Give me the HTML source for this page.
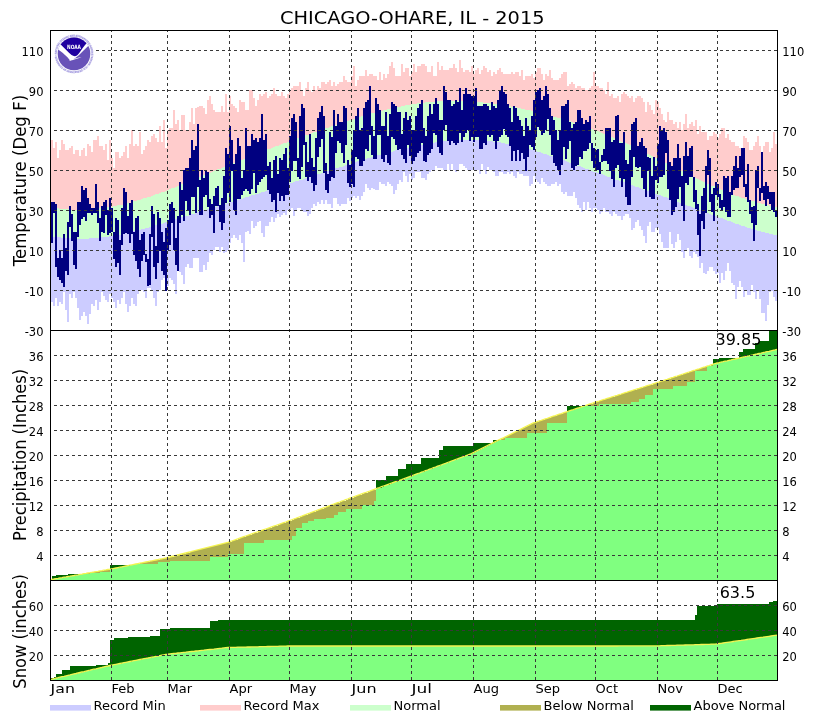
<!DOCTYPE html><html><head><meta charset="utf-8"><title>CHICAGO-OHARE, IL - 2015</title>
<style>html,body{margin:0;padding:0;background:#fff}svg{display:block}text{font-family:"DejaVu Sans","Liberation Sans",sans-serif;fill:#000}</style></head><body>
<svg width="827" height="720" viewBox="0 0 827 720">
<rect width="827" height="720" fill="#fff"/>
<g id="temp">
<path d="M51 140H53V208H51ZM53 148H55V208H53ZM55 142H57V208H55ZM57 158H59V208H57ZM59 150H61V209H59ZM61 140H63V209H61ZM63 144H65V209H63ZM65 150H67V209H65ZM67 150H69V209H67ZM69 148H71V209H69ZM71 146H73V210H71ZM73 154H75V210H73ZM75 150H77V210H75ZM77 150H79V210H77ZM79 156H81V210H79ZM81 150H83V210H81ZM83 148H85V210H83ZM85 156H87V209H85ZM87 144H89V209H87ZM89 146H91V209H89ZM91 152H93V209H91ZM93 140H95V209H93ZM95 140H97V209H95ZM97 136H99V209H97ZM99 146H101V208H99ZM101 146H103V208H101ZM103 150H105V208H103ZM105 144H107V208H105ZM107 160H109V207H107ZM109 140H111V207H109ZM111 158H113V207H111ZM113 168H115V206H113ZM115 152H117V206H115ZM117 152H119V205H117ZM119 158H121V205H119ZM121 156H123V205H121ZM123 152H125V204H123ZM125 146H127V204H125ZM127 158H129V203H127ZM129 144H131V203H129ZM131 130H133V202H131ZM133 146H135V201H133ZM135 144H137V201H135ZM137 146H139V200H137ZM139 132H141V200H139ZM141 154H143V199H141ZM143 150H145V198H143ZM145 146H147V198H145ZM147 140H149V197H147ZM149 142H151V197H149ZM151 136H153V196H151ZM153 134H155V195H153ZM155 138H157V194H155ZM157 142H159V194H157ZM159 126H161V193H159ZM161 142H163V192H161ZM163 120H165V192H163ZM165 148H167V191H165ZM167 130H169V190H167ZM169 128H171V189H169ZM171 128H173V188H171ZM173 110H175V188H173ZM175 124H177V187H175ZM177 120H179V186H177ZM179 130H181V185H179ZM181 115H183V184H181ZM183 115H185V184H183ZM185 130H187V183H185ZM187 130H189V182H187ZM189 122H191V181H189ZM191 108H193V180H191ZM193 124H195V180H193ZM195 108H197V179H195ZM197 107H199V178H197ZM199 106H201V177H199ZM201 106H203V176H201ZM203 108H205V175H203ZM205 114H207V174H205ZM207 100H209V174H207ZM209 96H211V173H209ZM211 104H213V172H211ZM213 110H215V171H213ZM215 112H217V170H215ZM217 112H219V169H217ZM219 112H221V169H219ZM221 106H223V168H221ZM223 112H225V167H223ZM225 94H227V166H225ZM227 112H229V165H227ZM229 96H231V164H229ZM231 104H233V164H231ZM233 106H235V163H233ZM235 108H237V162H235ZM237 112H239V161H237ZM239 100H241V160H239ZM241 102H243V160H241ZM243 102H245V159H243ZM245 110H247V158H245ZM247 110H249V157H247ZM249 90H251V156H249ZM251 90H253V156H251ZM253 98H255V155H253ZM255 106H257V154H255ZM257 100H259V153H257ZM259 94H261V152H259ZM261 96H263V152H261ZM263 94H265V151H263ZM265 92H267V150H265ZM267 98H269V149H267ZM269 96H271V149H269ZM271 94H273V148H271ZM273 88H275V147H273ZM275 94H277V146H275ZM277 96H279V146H277ZM279 96H281V145H279ZM281 92H283V144H281ZM283 96H285V143H283ZM285 98H287V143H285ZM287 94H289V142H287ZM289 90H291V141H289ZM291 88H293V140H291ZM293 86H295V140H293ZM295 86H297V139H295ZM297 86H299V138H297ZM299 82H301V137H299ZM301 90H303V137H301ZM303 96H305V136H303ZM305 88H307V135H305ZM307 82H309V135H307ZM309 90H311V134H309ZM311 92H313V133H311ZM313 86H315V132H313ZM315 90H317V132H315ZM317 86H319V131H317ZM319 88H321V130H319ZM321 82H323V130H321ZM323 82H325V129H323ZM325 84H327V128H325ZM327 82H329V128H327ZM329 80H331V127H329ZM331 86H333V126H331ZM333 82H335V125H333ZM335 86H337V125H335ZM337 84H339V124H337ZM339 82H341V123H339ZM341 82H343V123H341ZM343 76H345V122H343ZM345 80H347V121H345ZM347 82H349V121H347ZM349 82H351V120H349ZM351 76H353V120H351ZM353 66H355V119H353ZM355 86H357V118H355ZM357 80H359V118H357ZM359 76H361V117H359ZM361 76H363V116H361ZM363 76H365V116H363ZM365 70H367V115H365ZM367 76H369V115H367ZM369 74H371V114H369ZM371 74H373V113H371ZM373 76H375V113H373ZM375 76H377V112H375ZM377 80H379V112H377ZM379 72H381V111H379ZM381 80H383V111H381ZM383 74H385V110H383ZM385 78H387V110H385ZM387 74H389V109H387ZM389 66H391V109H389ZM391 62H393V108H391ZM393 68H395V108H393ZM395 76H397V107H395ZM397 76H399V107H397ZM399 76H401V107H399ZM401 64H403V106H401ZM403 72H405V106H403ZM405 68H407V105H405ZM407 68H409V105H407ZM409 76H411V105H409ZM411 72H413V104H411ZM413 64H415V104H413ZM415 72H417V104H415ZM417 66H419V103H417ZM419 66H421V103H419ZM421 64H423V103H421ZM423 64H425V103H423ZM425 66H427V102H425ZM427 72H429V102H427ZM429 72H431V102H429ZM431 66H433V102H431ZM433 76H435V102H433ZM435 76H437V102H435ZM437 62H439V101H437ZM439 70H441V101H439ZM441 66H443V101H441ZM443 70H445V101H443ZM445 70H447V101H445ZM447 70H449V101H447ZM449 68H451V101H449ZM451 68H453V101H451ZM453 64H455V101H453ZM455 68H457V101H455ZM457 72H459V101H457ZM459 60H461V101H459ZM461 68H463V101H461ZM463 72H465V101H463ZM465 70H467V101H465ZM467 70H469V101H467ZM469 72H471V101H469ZM471 66H473V102H471ZM473 74H475V102H473ZM475 70H477V102H475ZM477 68H479V102H477ZM479 74H481V102H479ZM481 70H483V102H481ZM483 66H485V103H483ZM485 68H487V103H485ZM487 72H489V103H487ZM489 70H491V103H489ZM491 76H493V104H491ZM493 72H495V104H493ZM495 74H497V104H495ZM497 70H499V104H497ZM499 68H501V105H499ZM501 72H503V105H501ZM503 74H505V105H503ZM505 74H507V106H505ZM507 74H509V106H507ZM509 74H511V106H509ZM511 72H513V107H511ZM513 74H515V107H513ZM515 72H517V107H515ZM517 72H519V108H517ZM519 76H521V108H519ZM521 70H523V109H521ZM523 80H525V109H523ZM525 76H527V110H525ZM527 76H529V110H527ZM529 76H531V110H529ZM531 74H533V111H531ZM533 78H535V111H533ZM535 72H537V112H535ZM537 68H539V112H537ZM539 68H541V113H539ZM541 74H543V113H541ZM543 80H545V114H543ZM545 74H547V114H545ZM547 76H549V115H547ZM549 70H551V115H549ZM551 78H553V116H551ZM553 80H555V117H553ZM555 80H557V117H555ZM557 80H559V118H557ZM559 78H561V118H559ZM561 74H563V119H561ZM563 72H565V120H563ZM565 72H567V120H565ZM567 86H569V121H567ZM569 84H571V121H569ZM571 82H573V122H571ZM573 84H575V123H573ZM575 88H577V123H575ZM577 86H579V124H577ZM579 86H581V125H579ZM581 88H583V126H581ZM583 88H585V126H583ZM585 90H587V127H585ZM587 90H589V128H587ZM589 88H591V128H589ZM591 86H593V129H591ZM593 72H595V130H593ZM595 86H597V131H595ZM597 86H599V131H597ZM599 88H601V132H599ZM601 88H603V133H601ZM603 90H605V134H603ZM605 94H607V135H605ZM607 82H609V136H607ZM609 96H611V136H609ZM611 94H613V137H611ZM613 98H615V138H613ZM615 98H617V139H615ZM617 96H619V140H617ZM619 102H621V141H619ZM621 94H623V142H621ZM623 92H625V143H623ZM625 94H627V143H625ZM627 96H629V144H627ZM629 98H631V145H629ZM631 96H633V146H631ZM633 102H635V147H633ZM635 98H637V148H635ZM637 96H639V149H637ZM639 96H641V150H639ZM641 98H643V151H641ZM643 102H645V152H643ZM645 112H647V153H645ZM647 102H649V154H647ZM649 105H651V155H649ZM651 110H653V156H651ZM653 114H655V157H653ZM655 100H657V158H655ZM657 102H659V159H657ZM659 108H661V160H659ZM661 114H663V161H661ZM663 120H665V162H663ZM665 122H667V163H665ZM667 112H669V164H667ZM669 120H671V165H669ZM671 120H673V166H671ZM673 124H675V167H673ZM675 122H677V168H675ZM677 128H679V169H677ZM679 122H681V170H679ZM681 130H683V171H681ZM683 124H685V172H683ZM685 114H687V173H685ZM687 128H689V174H687ZM689 124H691V175H689ZM691 122H693V176H691ZM693 126H695V177H693ZM695 120H697V178H695ZM697 134H699V179H697ZM699 126H701V180H699ZM701 132H703V181H701ZM703 132H705V182H703ZM705 132H707V183H705ZM707 140H709V184H707ZM709 136H711V185H709ZM711 136H713V186H711ZM713 132H715V186H713ZM715 134H717V187H715ZM717 138H719V188H717ZM719 134H721V189H719ZM721 128H723V190H721ZM723 128H725V191H723ZM725 138H727V192H725ZM727 134H729V192H727ZM729 140H731V193H729ZM731 142H733V194H731ZM733 142H735V195H733ZM735 146H737V196H735ZM737 146H739V196H737ZM739 148H741V197H739ZM741 148H743V198H741ZM743 136H745V198H743ZM745 138H747V199H745ZM747 142H749V200H747ZM749 150H751V200H749ZM751 150H753V201H751ZM753 146H755V201H753ZM755 142H757V202H755ZM757 136H759V203H757ZM759 146H761V203H759ZM761 152H763V204H761ZM763 146H765V204H763ZM765 142H767V205H765ZM767 142H769V205H767ZM769 152H771V206H769ZM771 148H773V206H771ZM773 132H775V206H773ZM775 144H777V207H775Z" fill="#ffcccc" shape-rendering="crispEdges"/>
<path d="M51 236H53V302H51ZM53 237H55V306H53ZM55 237H57V298H55ZM57 237H59V306H57ZM59 237H61V302H59ZM61 238H63V304H61ZM63 238H65V292H63ZM65 238H67V310H65ZM67 238H69V322H67ZM69 238H71V294H69ZM71 238H73V298H71ZM73 239H75V292H73ZM75 239H77V298H75ZM77 239H79V308H77ZM79 239H81V320H79ZM81 239H83V316H81ZM83 239H85V312H83ZM85 239H87V316H85ZM87 239H89V324H87ZM89 238H91V314H89ZM91 238H93V304H91ZM93 238H95V306H93ZM95 238H97V300H95ZM97 238H99V310H97ZM99 238H101V302H99ZM101 237H103V292H101ZM103 237H105V296H103ZM105 237H107V300H105ZM107 237H109V302H107ZM109 236H111V294H109ZM111 236H113V298H111ZM113 236H115V302H113ZM115 235H117V308H115ZM117 235H119V300H117ZM119 235H121V304H119ZM121 234H123V298H121ZM123 234H125V292H123ZM125 233H127V304H125ZM127 233H129V312H127ZM129 232H131V306H129ZM131 232H133V298H131ZM133 231H135V304H133ZM135 231H137V306H135ZM137 230H139V294H137ZM139 230H141V290H139ZM141 229H143V290H141ZM143 229H145V292H143ZM145 228H147V298H145ZM147 228H149V288H147ZM149 227H151V288H149ZM151 227H153V290H151ZM153 226H155V298H153ZM155 225H157V306H155ZM157 225H159V292H157ZM159 224H161V290H159ZM161 224H163V280H161ZM163 223H165V278H163ZM165 222H167V290H165ZM167 222H169V286H167ZM169 221H171V278H169ZM171 221H173V280H171ZM173 220H175V284H173ZM175 219H177V294H175ZM177 219H179V270H177ZM179 218H181V272H179ZM181 217H183V275H181ZM183 217H185V284H183ZM185 216H187V267H185ZM187 216H189V264H187ZM189 215H191V268H189ZM191 214H193V268H191ZM193 214H195V258H193ZM195 213H197V258H195ZM197 212H199V258H197ZM199 212H201V272H199ZM201 211H203V272H201ZM203 210H205V265H203ZM205 210H207V270H205ZM207 209H209V262H207ZM209 209H211V253H209ZM211 208H213V255H211ZM213 207H215V250H213ZM215 207H217V247H215ZM217 206H219V247H217ZM219 205H221V252H219ZM221 205H223V247H221ZM223 204H225V253H223ZM225 204H227V252H225ZM227 203H229V250H227ZM229 202H231V243H229ZM231 202H233V238H231ZM233 201H235V235H233ZM235 200H237V238H235ZM237 200H239V240H237ZM239 199H241V235H239ZM241 199H243V243H241ZM243 198H245V262H243ZM245 197H247V232H245ZM247 197H249V231H247ZM249 196H251V234H249ZM251 195H253V221H251ZM253 195H255V228H253ZM255 194H257V226H255ZM257 194H259V222H257ZM259 193H261V221H259ZM261 192H263V233H261ZM263 192H265V237H263ZM265 191H267V226H265ZM267 190H269V226H267ZM269 190H271V222H269ZM271 189H273V217H271ZM273 189H275V222H273ZM275 188H277V218H275ZM277 187H279V214H277ZM279 187H281V217H279ZM281 186H283V215H281ZM283 185H285V213H283ZM285 185H287V215H285ZM287 184H289V210H287ZM289 183H291V211H289ZM291 183H293V208H291ZM293 182H295V216H293ZM295 181H297V210H295ZM297 181H299V208H297ZM299 180H301V208H299ZM301 180H303V210H301ZM303 179H305V212H303ZM305 178H307V212H305ZM307 178H309V216H307ZM309 177H311V214H309ZM311 176H313V208H311ZM313 176H315V204H313ZM315 175H317V206H315ZM317 174H319V202H317ZM319 174H321V204H319ZM321 173H323V200H321ZM323 172H325V204H323ZM325 172H327V200H325ZM327 171H329V204H327ZM329 170H331V204H329ZM331 170H333V208H331ZM333 169H335V198H333ZM335 168H337V198H335ZM337 168H339V204H337ZM339 167H341V206H339ZM341 167H343V204H341ZM343 166H345V204H343ZM345 165H347V204H345ZM347 165H349V198H347ZM349 164H351V201H349ZM351 163H353V198H351ZM353 163H355V196H353ZM355 162H357V198H355ZM357 161H359V196H357ZM359 161H361V200H359ZM361 160H363V196H361ZM363 160H365V192H363ZM365 159H367V184H365ZM367 158H369V188H367ZM369 158H371V190H369ZM371 157H373V188H371ZM373 157H375V189H373ZM375 156H377V190H375ZM377 155H379V190H377ZM379 155H381V182H379ZM381 154H383V184H381ZM383 154H385V184H383ZM385 153H387V186H385ZM387 153H389V182H387ZM389 152H391V184H389ZM391 152H393V186H391ZM393 151H395V194H393ZM395 150H397V190H395ZM397 150H399V184H397ZM399 149H401V180H399ZM401 149H403V182H401ZM403 148H405V172H403ZM405 148H407V176H405ZM407 148H409V182H407ZM409 147H411V174H409ZM411 147H413V180H411ZM413 146H415V178H413ZM415 146H417V172H415ZM417 145H419V172H417ZM419 145H421V172H419ZM421 145H423V178H421ZM423 144H425V178H423ZM425 144H427V180H425ZM427 143H429V174H427ZM429 143H431V172H429ZM431 143H433V170H431ZM433 143H435V170H433ZM435 142H437V166H435ZM437 142H439V168H437ZM439 142H441V168H439ZM441 141H443V168H441ZM443 141H445V170H443ZM445 141H447V170H445ZM447 141H449V164H447ZM449 141H451V170H449ZM451 140H453V164H451ZM453 140H455V170H453ZM455 140H457V172H455ZM457 140H459V170H457ZM459 140H461V164H459ZM461 140H463V164H461ZM463 140H465V166H463ZM465 140H467V168H465ZM467 140H469V170H467ZM469 140H471V170H469ZM471 140H473V170H471ZM473 140H475V170H473ZM475 140H477V170H475ZM477 140H479V170H477ZM479 140H481V174H479ZM481 140H483V164H481ZM483 141H485V170H483ZM485 141H487V174H485ZM487 141H489V167H487ZM489 141H491V170H489ZM491 141H493V170H491ZM493 142H495V172H493ZM495 142H497V176H495ZM497 142H499V176H497ZM499 142H501V172H499ZM501 143H503V172H501ZM503 143H505V174H503ZM505 144H507V174H505ZM507 144H509V172H507ZM509 144H511V174H509ZM511 145H513V172H511ZM513 145H515V176H513ZM515 146H517V178H515ZM517 146H519V172H517ZM519 147H521V174H519ZM521 147H523V174H521ZM523 148H525V176H523ZM525 148H527V176H525ZM527 149H529V176H527ZM529 149H531V186H529ZM531 150H533V184H531ZM533 150H535V176H533ZM535 151H537V180H535ZM537 152H539V182H537ZM539 152H541V184H539ZM541 153H543V178H541ZM543 154H545V182H543ZM545 154H547V184H545ZM547 155H549V186H547ZM549 156H551V186H549ZM551 156H553V184H551ZM553 157H555V184H553ZM555 158H557V182H555ZM557 158H559V186H557ZM559 159H561V184H559ZM561 160H563V192H561ZM563 160H565V194H563ZM565 161H567V192H565ZM567 162H569V196H567ZM569 163H571V196H569ZM571 163H573V196H571ZM573 164H575V192H573ZM575 165H577V198H575ZM577 166H579V205H577ZM579 166H581V208H579ZM581 167H583V212H581ZM583 168H585V202H583ZM585 169H587V210H585ZM587 169H589V202H587ZM589 170H591V208H589ZM591 171H593V212H591ZM593 172H595V208H593ZM595 172H597V208H595ZM597 173H599V210H597ZM599 174H601V214H599ZM601 174H603V212H601ZM603 175H605V208H603ZM605 176H607V212H605ZM607 177H609V212H607ZM609 177H611V214H609ZM611 178H613V216H611ZM613 179H615V212H613ZM615 180H617V214H615ZM617 180H619V216H617ZM619 181H621V216H619ZM621 182H623V220H621ZM623 182H625V216H623ZM625 183H627V214H625ZM627 184H629V214H627ZM629 185H631V218H629ZM631 185H633V230H631ZM633 186H635V228H633ZM635 187H637V222H635ZM637 187H639V220H637ZM639 188H641V226H639ZM641 189H643V230H641ZM643 190H645V236H643ZM645 190H647V243H645ZM647 191H649V226H647ZM649 192H651V222H649ZM651 192H653V232H651ZM653 193H655V232H653ZM655 194H657V228H655ZM657 195H659V228H657ZM659 195H661V234H659ZM661 196H663V242H661ZM663 197H665V248H663ZM665 197H667V248H665ZM667 198H669V248H667ZM669 199H671V232H669ZM671 200H673V244H671ZM673 200H675V248H673ZM675 201H677V242H675ZM677 202H679V234H677ZM679 203H681V240H679ZM681 203H683V252H681ZM683 204H685V258H683ZM685 205H687V250H685ZM687 206H689V248H687ZM689 206H691V256H689ZM691 207H693V258H691ZM693 208H695V252H693ZM695 209H697V254H695ZM697 209H699V257H697ZM699 210H701V268H699ZM701 211H703V263H701ZM703 212H705V273H703ZM705 212H707V274H705ZM707 213H709V271H707ZM709 214H711V267H709ZM711 215H713V267H711ZM713 215H715V271H713ZM715 216H717V274H715ZM717 217H719V273H717ZM719 218H721V283H719ZM721 218H723V273H721ZM723 219H725V280H723ZM725 220H727V271H725ZM727 221H729V263H727ZM729 221H731V271H729ZM731 222H733V283H731ZM733 223H735V285H733ZM735 224H737V299H735ZM737 224H739V287H737ZM739 225H741V281H739ZM741 226H743V287H741ZM743 226H745V297H743ZM745 227H747V291H745ZM747 228H749V295H747ZM749 228H751V295H749ZM751 229H753V285H751ZM753 229H755V292H753ZM755 230H757V299H755ZM757 231H759V291H757ZM759 231H761V299H759ZM761 232H763V313H761ZM763 232H765V313H763ZM765 233H767V321H765ZM767 233H769V305H767ZM769 234H771V292H769ZM771 234H773V291H771ZM773 235H775V297H773ZM775 235H777V301H775Z" fill="#ccccff" shape-rendering="crispEdges"/>
<path d="M51 208H53V236H51ZM53 208H55V237H53ZM55 208H57V237H55ZM57 208H59V237H57ZM59 209H61V237H59ZM61 209H63V238H61ZM63 209H65V238H63ZM65 209H67V238H65ZM67 209H69V238H67ZM69 209H71V238H69ZM71 210H73V238H71ZM73 210H75V239H73ZM75 210H77V239H75ZM77 210H79V239H77ZM79 210H81V239H79ZM81 210H83V239H81ZM83 210H85V239H83ZM85 209H87V239H85ZM87 209H89V239H87ZM89 209H91V238H89ZM91 209H93V238H91ZM93 209H95V238H93ZM95 209H97V238H95ZM97 209H99V238H97ZM99 208H101V238H99ZM101 208H103V237H101ZM103 208H105V237H103ZM105 208H107V237H105ZM107 207H109V237H107ZM109 207H111V236H109ZM111 207H113V236H111ZM113 206H115V236H113ZM115 206H117V235H115ZM117 205H119V235H117ZM119 205H121V235H119ZM121 205H123V234H121ZM123 204H125V234H123ZM125 204H127V233H125ZM127 203H129V233H127ZM129 203H131V232H129ZM131 202H133V232H131ZM133 201H135V231H133ZM135 201H137V231H135ZM137 200H139V230H137ZM139 200H141V230H139ZM141 199H143V229H141ZM143 198H145V229H143ZM145 198H147V228H145ZM147 197H149V228H147ZM149 197H151V227H149ZM151 196H153V227H151ZM153 195H155V226H153ZM155 194H157V225H155ZM157 194H159V225H157ZM159 193H161V224H159ZM161 192H163V224H161ZM163 192H165V223H163ZM165 191H167V222H165ZM167 190H169V222H167ZM169 189H171V221H169ZM171 188H173V221H171ZM173 188H175V220H173ZM175 187H177V219H175ZM177 186H179V219H177ZM179 185H181V218H179ZM181 184H183V217H181ZM183 184H185V217H183ZM185 183H187V216H185ZM187 182H189V216H187ZM189 181H191V215H189ZM191 180H193V214H191ZM193 180H195V214H193ZM195 179H197V213H195ZM197 178H199V212H197ZM199 177H201V212H199ZM201 176H203V211H201ZM203 175H205V210H203ZM205 174H207V210H205ZM207 174H209V209H207ZM209 173H211V209H209ZM211 172H213V208H211ZM213 171H215V207H213ZM215 170H217V207H215ZM217 169H219V206H217ZM219 169H221V205H219ZM221 168H223V205H221ZM223 167H225V204H223ZM225 166H227V204H225ZM227 165H229V203H227ZM229 164H231V202H229ZM231 164H233V202H231ZM233 163H235V201H233ZM235 162H237V200H235ZM237 161H239V200H237ZM239 160H241V199H239ZM241 160H243V199H241ZM243 159H245V198H243ZM245 158H247V197H245ZM247 157H249V197H247ZM249 156H251V196H249ZM251 156H253V195H251ZM253 155H255V195H253ZM255 154H257V194H255ZM257 153H259V194H257ZM259 152H261V193H259ZM261 152H263V192H261ZM263 151H265V192H263ZM265 150H267V191H265ZM267 149H269V190H267ZM269 149H271V190H269ZM271 148H273V189H271ZM273 147H275V189H273ZM275 146H277V188H275ZM277 146H279V187H277ZM279 145H281V187H279ZM281 144H283V186H281ZM283 143H285V185H283ZM285 143H287V185H285ZM287 142H289V184H287ZM289 141H291V183H289ZM291 140H293V183H291ZM293 140H295V182H293ZM295 139H297V181H295ZM297 138H299V181H297ZM299 137H301V180H299ZM301 137H303V180H301ZM303 136H305V179H303ZM305 135H307V178H305ZM307 135H309V178H307ZM309 134H311V177H309ZM311 133H313V176H311ZM313 132H315V176H313ZM315 132H317V175H315ZM317 131H319V174H317ZM319 130H321V174H319ZM321 130H323V173H321ZM323 129H325V172H323ZM325 128H327V172H325ZM327 128H329V171H327ZM329 127H331V170H329ZM331 126H333V170H331ZM333 125H335V169H333ZM335 125H337V168H335ZM337 124H339V168H337ZM339 123H341V167H339ZM341 123H343V167H341ZM343 122H345V166H343ZM345 121H347V165H345ZM347 121H349V165H347ZM349 120H351V164H349ZM351 120H353V163H351ZM353 119H355V163H353ZM355 118H357V162H355ZM357 118H359V161H357ZM359 117H361V161H359ZM361 116H363V160H361ZM363 116H365V160H363ZM365 115H367V159H365ZM367 115H369V158H367ZM369 114H371V158H369ZM371 113H373V157H371ZM373 113H375V157H373ZM375 112H377V156H375ZM377 112H379V155H377ZM379 111H381V155H379ZM381 111H383V154H381ZM383 110H385V154H383ZM385 110H387V153H385ZM387 109H389V153H387ZM389 109H391V152H389ZM391 108H393V152H391ZM393 108H395V151H393ZM395 107H397V150H395ZM397 107H399V150H397ZM399 107H401V149H399ZM401 106H403V149H401ZM403 106H405V148H403ZM405 105H407V148H405ZM407 105H409V148H407ZM409 105H411V147H409ZM411 104H413V147H411ZM413 104H415V146H413ZM415 104H417V146H415ZM417 103H419V145H417ZM419 103H421V145H419ZM421 103H423V145H421ZM423 103H425V144H423ZM425 102H427V144H425ZM427 102H429V143H427ZM429 102H431V143H429ZM431 102H433V143H431ZM433 102H435V143H433ZM435 102H437V142H435ZM437 101H439V142H437ZM439 101H441V142H439ZM441 101H443V141H441ZM443 101H445V141H443ZM445 101H447V141H445ZM447 101H449V141H447ZM449 101H451V141H449ZM451 101H453V140H451ZM453 101H455V140H453ZM455 101H457V140H455ZM457 101H459V140H457ZM459 101H461V140H459ZM461 101H463V140H461ZM463 101H465V140H463ZM465 101H467V140H465ZM467 101H469V140H467ZM469 101H471V140H469ZM471 102H473V140H471ZM473 102H475V140H473ZM475 102H477V140H475ZM477 102H479V140H477ZM479 102H481V140H479ZM481 102H483V140H481ZM483 103H485V141H483ZM485 103H487V141H485ZM487 103H489V141H487ZM489 103H491V141H489ZM491 104H493V141H491ZM493 104H495V142H493ZM495 104H497V142H495ZM497 104H499V142H497ZM499 105H501V142H499ZM501 105H503V143H501ZM503 105H505V143H503ZM505 106H507V144H505ZM507 106H509V144H507ZM509 106H511V144H509ZM511 107H513V145H511ZM513 107H515V145H513ZM515 107H517V146H515ZM517 108H519V146H517ZM519 108H521V147H519ZM521 109H523V147H521ZM523 109H525V148H523ZM525 110H527V148H525ZM527 110H529V149H527ZM529 110H531V149H529ZM531 111H533V150H531ZM533 111H535V150H533ZM535 112H537V151H535ZM537 112H539V152H537ZM539 113H541V152H539ZM541 113H543V153H541ZM543 114H545V154H543ZM545 114H547V154H545ZM547 115H549V155H547ZM549 115H551V156H549ZM551 116H553V156H551ZM553 117H555V157H553ZM555 117H557V158H555ZM557 118H559V158H557ZM559 118H561V159H559ZM561 119H563V160H561ZM563 120H565V160H563ZM565 120H567V161H565ZM567 121H569V162H567ZM569 121H571V163H569ZM571 122H573V163H571ZM573 123H575V164H573ZM575 123H577V165H575ZM577 124H579V166H577ZM579 125H581V166H579ZM581 126H583V167H581ZM583 126H585V168H583ZM585 127H587V169H585ZM587 128H589V169H587ZM589 128H591V170H589ZM591 129H593V171H591ZM593 130H595V172H593ZM595 131H597V172H595ZM597 131H599V173H597ZM599 132H601V174H599ZM601 133H603V174H601ZM603 134H605V175H603ZM605 135H607V176H605ZM607 136H609V177H607ZM609 136H611V177H609ZM611 137H613V178H611ZM613 138H615V179H613ZM615 139H617V180H615ZM617 140H619V180H617ZM619 141H621V181H619ZM621 142H623V182H621ZM623 143H625V182H623ZM625 143H627V183H625ZM627 144H629V184H627ZM629 145H631V185H629ZM631 146H633V185H631ZM633 147H635V186H633ZM635 148H637V187H635ZM637 149H639V187H637ZM639 150H641V188H639ZM641 151H643V189H641ZM643 152H645V190H643ZM645 153H647V190H645ZM647 154H649V191H647ZM649 155H651V192H649ZM651 156H653V192H651ZM653 157H655V193H653ZM655 158H657V194H655ZM657 159H659V195H657ZM659 160H661V195H659ZM661 161H663V196H661ZM663 162H665V197H663ZM665 163H667V197H665ZM667 164H669V198H667ZM669 165H671V199H669ZM671 166H673V200H671ZM673 167H675V200H673ZM675 168H677V201H675ZM677 169H679V202H677ZM679 170H681V203H679ZM681 171H683V203H681ZM683 172H685V204H683ZM685 173H687V205H685ZM687 174H689V206H687ZM689 175H691V206H689ZM691 176H693V207H691ZM693 177H695V208H693ZM695 178H697V209H695ZM697 179H699V209H697ZM699 180H701V210H699ZM701 181H703V211H701ZM703 182H705V212H703ZM705 183H707V212H705ZM707 184H709V213H707ZM709 185H711V214H709ZM711 186H713V215H711ZM713 186H715V215H713ZM715 187H717V216H715ZM717 188H719V217H717ZM719 189H721V218H719ZM721 190H723V218H721ZM723 191H725V219H723ZM725 192H727V220H725ZM727 192H729V221H727ZM729 193H731V221H729ZM731 194H733V222H731ZM733 195H735V223H733ZM735 196H737V224H735ZM737 196H739V224H737ZM739 197H741V225H739ZM741 198H743V226H741ZM743 198H745V226H743ZM745 199H747V227H745ZM747 200H749V228H747ZM749 200H751V228H749ZM751 201H753V229H751ZM753 201H755V229H753ZM755 202H757V230H755ZM757 203H759V231H757ZM759 203H761V231H759ZM761 204H763V232H761ZM763 204H765V232H763ZM765 205H767V233H765ZM767 205H769V233H767ZM769 206H771V234H769ZM771 206H773V234H771ZM773 206H775V235H773ZM775 207H777V235H775Z" fill="#ccffcc" shape-rendering="crispEdges"/>
<path d="M51 202H53V243H51ZM53 202H55V213H53ZM55 204H57V267H55ZM57 258H59V277H57ZM59 250H61V280H59ZM61 258H63V283H61ZM63 234H65V287H63ZM65 248H67V271H65ZM67 222H69V275H67ZM69 206H71V227H69ZM71 214H73V241H71ZM73 232H75V265H73ZM75 232H77V269H75ZM77 202H79V237H77ZM79 202H81V225H79ZM81 186H83V219H81ZM83 190H85V217H83ZM85 188H87V221H85ZM87 198H89V213H87ZM89 204H91V213H89ZM91 208H93V215H91ZM93 208H95V213H93ZM95 184H97V213H95ZM97 202H99V223H97ZM99 218H101V241H99ZM101 206H103V232H101ZM103 202H105V233H103ZM105 200H107V215H105ZM107 210H109V235H107ZM109 198H111V233H109ZM111 208H113V232H111ZM113 232H115V259H113ZM115 218H117V267H115ZM117 220H119V263H117ZM119 240H121V275H119ZM121 208H123V245H121ZM123 188H125V234H123ZM125 192H127V233H125ZM127 216H129V234H127ZM129 203H131V243H129ZM131 200H133V234H131ZM133 232H135V255H133ZM135 218H137V261H135ZM137 216H139V269H137ZM139 240H141V277H139ZM141 234H143V261H141ZM143 232H145V255H143ZM145 254H147V262H145ZM147 259H149V286H147ZM149 234H151V285H149ZM151 206H153V237H151ZM153 214H155V267H153ZM155 246H157V279H155ZM157 212H159V263H157ZM159 218H161V251H159ZM161 232H163V271H161ZM163 242H165V275H163ZM165 228H167V291H165ZM167 220H169V250H167ZM169 204H171V245H169ZM171 202H173V223H171ZM173 208H175V250H173ZM175 238H177V265H175ZM177 216H179V271H177ZM179 182H181V223H179ZM181 190H183V215H181ZM183 170H185V221H183ZM185 168H187V201H185ZM187 168H189V211H187ZM189 158H191V215H189ZM191 140H193V197H191ZM193 150H195V197H193ZM195 146H197V213H195ZM197 124H199V187H197ZM199 180H201V215H199ZM201 170H203V215H201ZM203 178H205V197H203ZM205 170H207V195H205ZM207 172H209V207H207ZM209 199H211V218H209ZM211 204H213V215H211ZM213 196H215V233H213ZM215 188H217V206H215ZM217 186H219V206H217ZM219 205H221V222H219ZM221 198H223V230H221ZM223 176H225V223H223ZM225 148H227V203H225ZM227 154H229V193H227ZM229 126H231V202H229ZM231 140H233V171H231ZM233 164H235V210H233ZM235 154H237V215H235ZM237 138H239V199H237ZM239 146H241V199H239ZM241 178H243V195H241ZM243 170H245V191H243ZM245 128H247V189H245ZM247 146H249V191H247ZM249 146H251V194H249ZM251 134H253V189H251ZM253 140H255V173H253ZM255 138H257V193H255ZM257 142H259V185H257ZM259 138H261V182H259ZM261 114H263V179H261ZM263 140H265V177H263ZM265 134H267V175H265ZM267 166H269V190H267ZM269 162H271V194H269ZM271 178H273V202H271ZM273 160H275V200H273ZM275 156H277V212H275ZM277 174H279V193H277ZM279 158H281V201H279ZM281 160H283V196H281ZM283 154H285V201H283ZM285 148H287V195H285ZM287 168H289V195H287ZM289 136H291V182H289ZM291 118H293V171H291ZM293 114H295V161H293ZM295 122H297V161H295ZM297 158H299V177H297ZM299 116H301V179H299ZM301 104H303V167H301ZM303 108H305V145H303ZM305 142H307V177H305ZM307 162H309V181H307ZM309 134H311V177H309ZM311 158H313V183H311ZM313 167H315V191H313ZM315 138H317V185H315ZM317 118H319V157H317ZM319 112H321V147H319ZM321 106H323V139H321ZM323 116H325V173H323ZM325 163H327V190H325ZM327 174H329V193H327ZM329 132H331V181H329ZM331 137H333V177H331ZM333 110H335V178H333ZM335 126H337V153H335ZM337 114H339V141H337ZM339 122H341V143H339ZM341 122H343V153H341ZM343 106H345V163H343ZM345 108H347V145H345ZM347 160H349V183H347ZM349 165H351V187H349ZM351 150H353V184H351ZM353 130H355V187H353ZM355 116H357V157H355ZM357 108H359V159H357ZM359 130H361V166H359ZM361 128H363V166H361ZM363 108H365V161H363ZM365 102H367V149H365ZM367 100H369V151H367ZM369 86H371V135H369ZM371 126H373V155H371ZM373 136H375V159H373ZM375 98H377V159H375ZM377 104H379V135H377ZM379 110H381V135H379ZM381 126H383V159H381ZM383 126H385V162H383ZM385 112H387V155H385ZM387 136H389V163H387ZM389 114H391V165H389ZM391 102H393V137H391ZM393 104H395V139H393ZM395 106H397V145H395ZM397 112H399V150H397ZM399 112H401V149H399ZM401 134H403V155H401ZM403 118H405V159H403ZM405 112H407V163H405ZM407 120H409V145H407ZM409 116H411V156H409ZM411 130H413V164H411ZM413 130H415V161H413ZM415 116H417V157H415ZM417 108H419V153H417ZM419 104H421V151H419ZM421 100H423V143H421ZM423 128H425V161H423ZM425 136H427V162H425ZM427 116H429V155H427ZM429 104H431V153H429ZM431 114H433V149H431ZM433 104H435V133H433ZM435 98H437V135H435ZM437 104H439V147H437ZM439 120H441V153H439ZM441 120H443V155H441ZM443 86H445V130H443ZM445 92H447V125H445ZM447 100H449V141H447ZM449 100H451V145H449ZM451 106H453V141H451ZM453 104H455V143H453ZM455 100H457V145H455ZM457 102H459V143H457ZM459 88H461V133H459ZM461 110H463V142H461ZM463 94H465V137H463ZM465 88H467V133H465ZM467 94H469V130H467ZM469 94H471V141H469ZM471 96H473V137H471ZM473 96H475V142H473ZM475 88H477V137H475ZM477 106H479V137H477ZM479 106H481V149H479ZM481 106H483V149H481ZM483 104H485V143H483ZM485 104H487V145H485ZM487 106H489V135H487ZM489 110H491V137H489ZM491 102H493V135H491ZM493 106H495V141H493ZM495 108H497V149H495ZM497 100H499V141H497ZM499 90H501V137H499ZM501 86H503V135H501ZM503 92H505V129H503ZM505 94H507V135H505ZM507 104H509V137H507ZM509 108H511V146H509ZM511 122H513V161H511ZM513 106H515V151H513ZM515 108H517V161H515ZM517 116H519V150H517ZM519 120H521V161H519ZM521 126H523V153H521ZM523 136H525V159H523ZM525 118H527V171H525ZM527 126H529V157H527ZM529 130H531V145H529ZM531 116H533V147H531ZM533 100H535V150H533ZM535 92H537V137H535ZM537 90H539V127H537ZM539 88H541V130H539ZM541 100H543V135H541ZM543 96H545V133H543ZM545 86H547V130H545ZM547 94H549V119H547ZM549 108H551V135H549ZM551 116H553V155H551ZM553 120H555V163H553ZM555 130H557V166H555ZM557 140H559V170H557ZM559 130H561V175H559ZM561 106H563V165H561ZM563 106H565V147H563ZM565 104H567V159H565ZM567 100H569V149H567ZM569 122H571V141H569ZM571 128H573V168H571ZM573 124H575V170H573ZM575 122H577V166H575ZM577 110H579V165H577ZM579 110H581V157H579ZM581 118H583V159H581ZM583 124H585V151H583ZM585 120H587V151H585ZM587 122H589V149H587ZM589 116H591V143H589ZM591 143H593V161H591ZM593 148H595V168H593ZM595 150H597V170H595ZM597 149H599V170H597ZM599 162H601V174H599ZM601 155H603V162H601ZM603 149H605V161H603ZM605 128H607V161H605ZM607 128H609V164H607ZM609 128H611V171H609ZM611 142H613V179H611ZM613 140H615V187H613ZM615 116H617V168H615ZM617 115H619V165H617ZM619 143H621V178H619ZM621 143H623V187H621ZM623 132H625V179H623ZM625 160H627V197H625ZM627 164H629V205H627ZM629 150H631V205H629ZM631 124H633V177H631ZM633 122H635V157H633ZM635 118H637V167H635ZM637 146H639V168H637ZM639 142H641V167H639ZM641 138H643V178H641ZM643 146H645V189H643ZM645 148H647V197H645ZM647 157H649V171H647ZM649 158H651V197H649ZM651 176H653V199H651ZM653 157H655V199H653ZM655 166H657V180H655ZM657 144H659V183H657ZM659 126H661V177H659ZM661 130H663V177H661ZM663 128H665V175H663ZM665 132H667V153H665ZM667 140H669V189H667ZM669 162H671V200H669ZM671 166H673V215H671ZM673 158H675V212H673ZM675 158H677V207H675ZM677 144H679V199H677ZM679 158H681V187H679ZM681 176H683V206H681ZM683 156H685V221H683ZM685 142H687V183H685ZM687 156H689V185H687ZM689 148H691V177H689ZM691 146H693V177H691ZM693 177H695V202H693ZM695 190H697V209H695ZM697 204H699V235H697ZM699 214H701V256H699ZM701 196H703V221H701ZM703 188H705V229H703ZM705 166H707V213H705ZM707 150H709V175H707ZM709 158H711V202H709ZM711 194H713V212H711ZM713 188H715V221H713ZM715 182H717V195H715ZM717 184H719V197H717ZM719 194H721V208H719ZM721 200H723V211H721ZM723 176H725V207H723ZM725 178H727V212H725ZM727 176H729V217H727ZM729 192H731V217H729ZM731 176H733V195H731ZM733 166H735V190H733ZM735 156H737V188H735ZM737 168H739V188H737ZM739 156H741V177H739ZM741 148H743V175H741ZM743 148H745V187H743ZM745 184H747V197H745ZM747 164H749V202H747ZM749 200H751V214H749ZM751 207H753V223H751ZM753 206H755V241H753ZM755 170H757V225H755ZM757 166H759V188H757ZM759 188H761V201H759ZM761 152H763V193H761ZM763 186H765V200H763ZM765 182H767V206H765ZM767 186H769V199H767ZM769 192H771V204H769ZM771 192H773V210H771ZM773 192H775V212H773ZM775 211H777V217H775Z" fill="#000080" shape-rendering="crispEdges"/>
</g>
<g id="precip"><path d="M50 579.7H52V580.0H50ZM52 579.3H54V580.0H52ZM54 579.0H56V580.0H54ZM56 578.6H58V580.0H56ZM58 578.3H60V580.0H58ZM60 577.9H62V580.0H60ZM62 577.6H64V580.0H62ZM64 577.2H66V580.0H64ZM66 576.9H68V580.0H66ZM68 576.5H70V580.0H68ZM70 576.2H72V580.0H70ZM72 575.8H74V580.0H72ZM74 575.5H76V580.0H74ZM76 575.1H78V580.0H76ZM78 574.8H80V580.0H78ZM80 574.4H82V580.0H80ZM82 574.1H84V580.0H82ZM84 573.7H86V580.0H84ZM86 573.5H88V580.0H86ZM88 573.5H90V580.0H88ZM90 573.1H92V580.0H90ZM92 573.1H94V580.0H92ZM94 573.1H96V580.0H94ZM96 573.1H98V580.0H96ZM98 573.1H100V580.0H98ZM100 572.2H102V580.0H100ZM102 572.2H104V580.0H102ZM104 572.2H106V580.0H104ZM106 572.2H108V580.0H106ZM108 572.2H110V580.0H108ZM110 569.2H112V580.0H110ZM112 568.8H114V580.0H112ZM114 568.4H116V580.0H114ZM116 568.0H118V580.0H116ZM118 567.6H120V580.0H118ZM120 567.2H122V580.0H120ZM122 566.8H124V580.0H122ZM124 566.4H126V580.0H124ZM126 566.0H128V580.0H126ZM128 565.6H130V580.0H128ZM130 565.2H132V580.0H130ZM132 565.0H134V580.0H132ZM134 564.4H136V580.0H134ZM136 564.0H138V580.0H136ZM138 563.8H140V580.0H138ZM140 563.8H142V580.0H140ZM142 563.8H144V580.0H142ZM144 563.8H146V580.0H144ZM146 563.8H148V580.0H146ZM148 563.8H150V580.0H148ZM150 563.8H152V580.0H150ZM152 563.8H154V580.0H152ZM154 563.8H156V580.0H154ZM156 563.8H158V580.0H156ZM158 562.1H160V580.0H158ZM160 562.1H162V580.0H160ZM162 562.1H164V580.0H162ZM164 562.1H166V580.0H164ZM166 562.1H168V580.0H166ZM168 562.1H170V580.0H168ZM170 561.4H172V580.0H170ZM172 561.4H174V580.0H172ZM174 561.4H176V580.0H174ZM176 561.4H178V580.0H176ZM178 561.4H180V580.0H178ZM180 561.4H182V580.0H180ZM182 561.4H184V580.0H182ZM184 561.4H186V580.0H184ZM186 561.4H188V580.0H186ZM188 561.4H190V580.0H188ZM190 561.4H192V580.0H190ZM192 561.4H194V580.0H192ZM194 561.4H196V580.0H194ZM196 561.4H198V580.0H196ZM198 561.4H200V580.0H198ZM200 561.4H202V580.0H200ZM202 561.4H204V580.0H202ZM204 561.4H206V580.0H204ZM206 561.4H208V580.0H206ZM208 561.4H210V580.0H208ZM210 557.2H212V580.0H210ZM212 557.2H214V580.0H212ZM214 557.2H216V580.0H214ZM216 557.2H218V580.0H216ZM218 557.2H220V580.0H218ZM220 557.2H222V580.0H220ZM222 557.2H224V580.0H222ZM224 557.2H226V580.0H224ZM226 557.2H228V580.0H226ZM228 554.1H230V580.0H228ZM230 554.1H232V580.0H230ZM232 554.1H234V580.0H232ZM234 554.1H236V580.0H234ZM236 554.1H238V580.0H236ZM238 554.1H240V580.0H238ZM240 554.1H242V580.0H240ZM242 554.1H244V580.0H242ZM244 543.2H246V580.0H244ZM246 543.2H248V580.0H246ZM248 543.2H250V580.0H248ZM250 543.2H252V580.0H250ZM252 543.2H254V580.0H252ZM254 543.2H256V580.0H254ZM256 543.2H258V580.0H256ZM258 543.2H260V580.0H258ZM260 543.2H262V580.0H260ZM262 543.2H264V580.0H262ZM264 540.0H266V580.0H264ZM266 540.0H268V580.0H266ZM268 540.0H270V580.0H268ZM270 540.0H272V580.0H270ZM272 540.0H274V580.0H272ZM274 540.0H276V580.0H274ZM276 540.0H278V580.0H276ZM278 540.0H280V580.0H278ZM280 540.0H282V580.0H280ZM282 540.0H284V580.0H282ZM284 540.0H286V580.0H284ZM286 540.0H288V580.0H286ZM288 540.0H290V580.0H288ZM290 540.0H292V580.0H290ZM292 536.4H294V580.0H292ZM294 536.4H296V580.0H294ZM296 527.9H298V580.0H296ZM298 527.9H300V580.0H298ZM300 527.9H302V580.0H300ZM302 523.1H304V580.0H302ZM304 523.1H306V580.0H304ZM306 523.1H308V580.0H306ZM308 520.7H310V580.0H308ZM310 520.7H312V580.0H310ZM312 520.7H314V580.0H312ZM314 519.0H316V580.0H314ZM316 519.0H318V580.0H316ZM318 519.0H320V580.0H318ZM320 519.0H322V580.0H320ZM322 519.0H324V580.0H322ZM324 519.0H326V580.0H324ZM326 517.5H328V580.0H326ZM328 517.5H330V580.0H328ZM330 517.5H332V580.0H330ZM332 517.5H334V580.0H332ZM334 514.6H336V580.0H334ZM336 514.6H338V580.0H336ZM338 512.2H340V580.0H338ZM340 512.2H342V580.0H340ZM342 512.2H344V580.0H342ZM344 512.2H346V580.0H344ZM346 508.6H348V580.0H346ZM348 508.6H350V580.0H348ZM350 508.6H352V580.0H350ZM352 508.6H354V580.0H352ZM354 508.6H356V580.0H354ZM356 508.6H358V580.0H356ZM358 508.6H360V580.0H358ZM360 508.6H362V580.0H360ZM362 505.4H364V580.0H362ZM364 505.4H366V580.0H364ZM366 505.4H368V580.0H366ZM368 505.4H370V580.0H368ZM370 505.4H372V580.0H370ZM372 505.4H374V580.0H372ZM374 501.2H376V580.0H374ZM376 488.9H378V580.0H376ZM378 488.2H380V580.0H378ZM380 487.5H382V580.0H380ZM382 486.7H384V580.0H382ZM384 486.0H386V580.0H384ZM386 485.3H388V580.0H386ZM388 484.6H390V580.0H388ZM390 483.9H392V580.0H390ZM392 483.2H394V580.0H392ZM394 482.4H396V580.0H394ZM396 481.7H398V580.0H396ZM398 481.0H400V580.0H398ZM400 480.3H402V580.0H400ZM402 479.6H404V580.0H402ZM404 478.8H406V580.0H404ZM406 478.1H408V580.0H406ZM408 477.4H410V580.0H408ZM410 476.7H412V580.0H410ZM412 475.9H414V580.0H412ZM414 475.2H415V580.0H414ZM415 474.4H417V580.0H415ZM417 473.7H419V580.0H417ZM419 473.0H421V580.0H419ZM421 472.2H423V580.0H421ZM423 471.5H425V580.0H423ZM425 470.7H427V580.0H425ZM427 470.0H429V580.0H427ZM429 469.2H431V580.0H429ZM431 468.5H433V580.0H431ZM433 467.7H435V580.0H433ZM435 467.0H437V580.0H435ZM437 466.2H439V580.0H437ZM439 465.5H441V580.0H439ZM441 464.8H443V580.0H441ZM443 464.0H445V580.0H443ZM445 463.3H447V580.0H445ZM447 462.5H449V580.0H447ZM449 461.8H451V580.0H449ZM451 461.0H453V580.0H451ZM453 460.3H455V580.0H453ZM455 459.5H457V580.0H455ZM457 458.8H459V580.0H457ZM459 458.0H461V580.0H459ZM461 457.3H463V580.0H461ZM463 456.5H465V580.0H463ZM465 455.8H467V580.0H465ZM467 455.1H469V580.0H467ZM469 454.3H471V580.0H469ZM471 453.6H473V580.0H471ZM473 452.6H475V580.0H473ZM475 451.6H477V580.0H475ZM477 450.6H479V580.0H477ZM479 449.6H481V580.0H479ZM481 448.6H483V580.0H481ZM483 447.6H485V580.0H483ZM485 446.6H487V580.0H485ZM487 445.7H489V580.0H487ZM489 444.7H491V580.0H489ZM491 443.7H493V580.0H491ZM493 442.7H495V580.0H493ZM495 441.7H497V580.0H495ZM497 440.7H499V580.0H497ZM499 440.0H501V580.0H499ZM501 440.0H503V580.0H501ZM503 440.0H505V580.0H503ZM505 437.7H507V580.0H505ZM507 437.7H509V580.0H507ZM509 437.7H511V580.0H509ZM511 437.7H513V580.0H511ZM513 437.7H515V580.0H513ZM515 437.7H517V580.0H515ZM517 437.7H519V580.0H517ZM519 437.7H521V580.0H519ZM521 437.7H523V580.0H521ZM523 437.7H525V580.0H523ZM525 437.7H527V580.0H525ZM527 432.5H529V580.0H527ZM529 432.5H531V580.0H529ZM531 432.5H533V580.0H531ZM533 432.5H535V580.0H533ZM535 432.5H537V580.0H535ZM537 432.5H539V580.0H537ZM539 432.5H541V580.0H539ZM541 432.5H543V580.0H541ZM543 432.5H545V580.0H543ZM545 432.5H547V580.0H545ZM547 422.5H549V580.0H547ZM549 422.5H551V580.0H549ZM551 422.5H553V580.0H551ZM553 422.5H555V580.0H553ZM555 422.5H557V580.0H555ZM557 422.5H559V580.0H557ZM559 422.5H561V580.0H559ZM561 422.5H563V580.0H561ZM563 422.5H565V580.0H563ZM565 422.5H567V580.0H565ZM567 411.6H569V580.0H567ZM569 410.9H571V580.0H569ZM571 410.2H573V580.0H571ZM573 409.6H575V580.0H573ZM575 408.9H577V580.0H575ZM577 408.2H579V580.0H577ZM579 407.6H581V580.0H579ZM581 406.9H583V580.0H581ZM583 406.2H585V580.0H583ZM585 405.8H587V580.0H585ZM587 405.8H589V580.0H587ZM589 405.8H591V580.0H589ZM591 405.8H593V580.0H591ZM593 405.8H595V580.0H593ZM595 405.8H597V580.0H595ZM597 405.8H599V580.0H597ZM599 403.8H601V580.0H599ZM601 403.8H603V580.0H601ZM603 403.8H605V580.0H603ZM605 403.8H607V580.0H605ZM607 403.8H609V580.0H607ZM609 403.8H611V580.0H609ZM611 403.8H613V580.0H611ZM613 403.8H615V580.0H613ZM615 403.8H617V580.0H615ZM617 403.8H619V580.0H617ZM619 403.8H621V580.0H619ZM621 403.8H623V580.0H621ZM623 403.8H625V580.0H623ZM625 403.8H627V580.0H625ZM627 403.8H629V580.0H627ZM629 403.8H631V580.0H629ZM631 401.9H633V580.0H631ZM633 401.9H635V580.0H633ZM635 401.9H637V580.0H635ZM637 401.9H639V580.0H637ZM639 398.8H641V580.0H639ZM641 398.8H643V580.0H641ZM643 398.8H645V580.0H643ZM645 395.1H647V580.0H645ZM647 395.1H649V580.0H647ZM649 395.1H651V580.0H649ZM651 395.1H653V580.0H651ZM653 389.4H655V580.0H653ZM655 389.4H657V580.0H655ZM657 389.4H659V580.0H657ZM659 389.4H661V580.0H659ZM661 389.4H663V580.0H661ZM663 389.4H665V580.0H663ZM665 389.4H667V580.0H665ZM667 389.4H669V580.0H667ZM669 389.4H671V580.0H669ZM671 389.4H673V580.0H671ZM673 385.6H675V580.0H673ZM675 385.6H677V580.0H675ZM677 385.6H679V580.0H677ZM679 385.6H681V580.0H679ZM681 385.6H683V580.0H681ZM683 385.6H685V580.0H683ZM685 385.6H687V580.0H685ZM687 381.9H689V580.0H687ZM689 381.9H691V580.0H689ZM691 381.9H693V580.0H691ZM693 381.9H695V580.0H693ZM695 370.9H697V580.0H695ZM697 370.9H699V580.0H697ZM699 370.9H701V580.0H699ZM701 370.9H703V580.0H701ZM703 370.9H705V580.0H703ZM705 370.9H707V580.0H705ZM707 366.1H709V580.0H707ZM709 365.6H711V580.0H709ZM711 365.6H713V580.0H711ZM713 364.2H715V580.0H713ZM715 363.5H717V580.0H715ZM717 363.0H719V580.0H717ZM719 362.6H721V580.0H719ZM721 362.1H723V580.0H721ZM723 361.7H725V580.0H723ZM725 361.2H727V580.0H725ZM727 360.8H729V580.0H727ZM729 360.3H731V580.0H729ZM731 359.9H733V580.0H731ZM733 359.4H735V580.0H733ZM735 359.0H737V580.0H735ZM737 358.5H739V580.0H737ZM739 358.1H741V580.0H739ZM741 357.6H743V580.0H741ZM743 357.1H745V580.0H743ZM745 356.7H747V580.0H745ZM747 356.2H749V580.0H747ZM749 355.8H751V580.0H749ZM751 355.3H753V580.0H751ZM753 354.9H755V580.0H753ZM755 354.4H757V580.0H755ZM757 354.0H759V580.0H757ZM759 353.5H761V580.0H759ZM761 353.1H763V580.0H761ZM763 352.6H765V580.0H763ZM765 352.2H767V580.0H765ZM767 351.7H769V580.0H767ZM769 351.3H771V580.0H769ZM771 350.8H773V580.0H771ZM773 350.3H775V580.0H773ZM775 349.9H777V580.0H775ZM777 349.4H777V580.0H777Z" fill="#80ff80" shape-rendering="crispEdges"/><path d="M86 573.4H88V573.5H86ZM88 573.0H90V573.5H88ZM90 572.7H92V573.1H90ZM92 572.3H94V573.1H92ZM94 572.0H96V573.1H94ZM96 571.6H98V573.1H96ZM98 571.3H100V573.1H98ZM100 570.9H102V572.2H100ZM102 570.6H104V572.2H102ZM104 570.2H106V572.2H104ZM106 569.9H108V572.2H106ZM108 569.5H110V572.2H108ZM132 564.8H134V565.0H132ZM138 563.6H140V563.8H138ZM140 563.2H142V563.8H140ZM142 562.8H144V563.8H142ZM144 562.4H146V563.8H144ZM146 562.0H148V563.8H146ZM148 561.6H150V563.8H148ZM150 561.2H152V563.8H150ZM152 560.8H154V563.8H152ZM154 560.4H156V563.8H154ZM156 560.0H158V563.8H156ZM158 559.6H160V562.1H158ZM160 559.2H162V562.1H160ZM162 558.8H164V562.1H162ZM164 558.4H166V562.1H164ZM166 558.0H168V562.1H166ZM168 557.5H170V562.1H168ZM170 557.0H172V561.4H170ZM172 556.5H174V561.4H172ZM174 556.0H176V561.4H174ZM176 555.5H178V561.4H176ZM178 555.0H180V561.4H178ZM180 554.5H182V561.4H180ZM182 554.0H184V561.4H182ZM184 553.5H186V561.4H184ZM186 553.0H188V561.4H186ZM188 552.5H190V561.4H188ZM190 552.0H192V561.4H190ZM192 551.4H194V561.4H192ZM194 550.9H196V561.4H194ZM196 550.4H198V561.4H196ZM198 549.9H200V561.4H198ZM200 549.4H202V561.4H200ZM202 548.9H204V561.4H202ZM204 548.4H206V561.4H204ZM206 547.9H208V561.4H206ZM208 547.4H210V561.4H208ZM210 546.9H212V557.2H210ZM212 546.4H214V557.2H212ZM214 545.9H216V557.2H214ZM216 545.4H218V557.2H216ZM218 544.9H220V557.2H218ZM220 544.4H222V557.2H220ZM222 543.9H224V557.2H222ZM224 543.4H226V557.2H224ZM226 542.9H228V557.2H226ZM228 542.4H230V554.1H228ZM230 541.7H232V554.1H230ZM232 541.0H234V554.1H232ZM234 540.3H236V554.1H234ZM236 539.6H238V554.1H236ZM238 538.9H240V554.1H238ZM240 538.1H242V554.1H240ZM242 537.4H244V554.1H242ZM244 536.7H246V543.2H244ZM246 536.0H248V543.2H246ZM248 535.3H250V543.2H248ZM250 534.6H252V543.2H250ZM252 533.9H254V543.2H252ZM254 533.2H256V543.2H254ZM256 532.5H258V543.2H256ZM258 531.8H260V543.2H258ZM260 531.1H262V543.2H260ZM262 530.4H264V543.2H262ZM264 529.7H266V540.0H264ZM266 529.0H268V540.0H266ZM268 528.3H270V540.0H268ZM270 527.6H272V540.0H270ZM272 526.9H274V540.0H272ZM274 526.2H276V540.0H274ZM276 525.5H278V540.0H276ZM278 524.8H280V540.0H278ZM280 524.1H282V540.0H280ZM282 523.4H284V540.0H282ZM284 522.7H286V540.0H284ZM286 522.0H288V540.0H286ZM288 521.2H290V540.0H288ZM290 520.5H292V540.0H290ZM292 519.8H294V536.4H292ZM294 519.0H296V536.4H294ZM296 518.3H298V527.9H296ZM298 517.5H300V527.9H298ZM300 516.8H302V527.9H300ZM302 516.1H304V523.1H302ZM304 515.3H306V523.1H304ZM306 514.6H308V523.1H306ZM308 513.8H310V520.7H308ZM310 513.1H312V520.7H310ZM312 512.3H314V520.7H312ZM314 511.6H316V519.0H314ZM316 510.9H318V519.0H316ZM318 510.1H320V519.0H318ZM320 509.4H322V519.0H320ZM322 508.6H324V519.0H322ZM324 507.9H326V519.0H324ZM326 507.2H328V517.5H326ZM328 506.4H330V517.5H328ZM330 505.7H332V517.5H330ZM332 504.9H334V517.5H332ZM334 504.2H336V514.6H334ZM336 503.4H338V514.6H336ZM338 502.7H340V512.2H338ZM340 502.0H342V512.2H340ZM342 501.2H344V512.2H342ZM344 500.5H346V512.2H344ZM346 499.7H348V508.6H346ZM348 499.0H350V508.6H348ZM350 498.2H352V508.6H350ZM352 497.5H354V508.6H352ZM354 496.8H356V508.6H354ZM356 496.1H358V508.6H356ZM358 495.4H360V508.6H358ZM360 494.7H362V508.6H360ZM362 493.9H364V505.4H362ZM364 493.2H366V505.4H364ZM366 492.5H368V505.4H366ZM368 491.8H370V505.4H368ZM370 491.1H372V505.4H370ZM372 490.3H374V505.4H372ZM374 489.6H376V501.2H374ZM499 439.7H501V440.0H499ZM501 438.7H503V440.0H501ZM503 437.8H505V440.0H503ZM505 436.8H507V437.7H505ZM507 435.8H509V437.7H507ZM509 434.8H511V437.7H509ZM511 433.8H513V437.7H511ZM513 432.8H515V437.7H513ZM515 431.8H517V437.7H515ZM517 430.8H519V437.7H517ZM519 429.9H521V437.7H519ZM521 428.9H523V437.7H521ZM523 427.9H525V437.7H523ZM525 426.9H527V437.7H525ZM527 425.9H529V432.5H527ZM529 424.9H531V432.5H529ZM531 423.9H533V432.5H531ZM533 422.9H535V432.5H533ZM535 422.3H537V432.5H535ZM537 421.6H539V432.5H537ZM539 420.9H541V432.5H539ZM541 420.3H543V432.5H541ZM543 419.6H545V432.5H543ZM545 418.9H547V432.5H545ZM547 418.3H549V422.5H547ZM549 417.6H551V422.5H549ZM551 416.9H553V422.5H551ZM553 416.2H555V422.5H553ZM555 415.6H557V422.5H555ZM557 414.9H559V422.5H557ZM559 414.2H561V422.5H559ZM561 413.6H563V422.5H561ZM563 412.9H565V422.5H563ZM565 412.2H567V422.5H565ZM585 405.6H587V405.8H585ZM587 404.9H589V405.8H587ZM589 404.2H591V405.8H589ZM591 403.5H593V405.8H591ZM593 402.9H595V405.8H593ZM595 402.2H597V405.8H595ZM597 401.6H599V405.8H597ZM599 401.0H601V403.8H599ZM601 400.3H603V403.8H601ZM603 399.7H605V403.8H603ZM605 399.1H607V403.8H605ZM607 398.4H609V403.8H607ZM609 397.8H611V403.8H609ZM611 397.2H613V403.8H611ZM613 396.5H615V403.8H613ZM615 395.9H617V403.8H615ZM617 395.3H619V403.8H617ZM619 394.6H621V403.8H619ZM621 394.0H623V403.8H621ZM623 393.3H625V403.8H623ZM625 392.7H627V403.8H625ZM627 392.1H629V403.8H627ZM629 391.4H631V403.8H629ZM631 390.8H633V401.9H631ZM633 390.2H635V401.9H633ZM635 389.5H637V401.9H635ZM637 388.9H639V401.9H637ZM639 388.3H641V398.8H639ZM641 387.6H643V398.8H641ZM643 387.0H645V398.8H643ZM645 386.4H647V395.1H645ZM647 385.7H649V395.1H647ZM649 385.1H651V395.1H649ZM651 384.5H653V395.1H651ZM653 383.8H655V389.4H653ZM655 383.2H657V389.4H655ZM657 382.5H659V389.4H657ZM659 381.9H661V389.4H659ZM661 381.2H663V389.4H661ZM663 380.6H665V389.4H663ZM665 379.9H667V389.4H665ZM667 379.3H669V389.4H667ZM669 378.6H671V389.4H669ZM671 377.9H673V389.4H671ZM673 377.3H675V385.6H673ZM675 376.6H677V385.6H675ZM677 376.0H679V385.6H677ZM679 375.3H681V385.6H679ZM681 374.7H683V385.6H681ZM683 374.0H685V385.6H683ZM685 373.3H687V385.6H685ZM687 372.7H689V381.9H687ZM689 372.0H691V381.9H689ZM691 371.4H693V381.9H691ZM693 370.7H695V381.9H693ZM695 370.1H697V370.9H695ZM697 369.4H699V370.9H697ZM699 368.8H701V370.9H699ZM701 368.1H703V370.9H701ZM703 367.4H705V370.9H703ZM705 366.8H707V370.9H705ZM709 365.5H711V365.6H709ZM711 364.8H713V365.6H711Z" fill="#b0b050" shape-rendering="crispEdges"/><path d="M50 579.4H52V579.7H50ZM52 575.8H54V579.3H52ZM54 575.8H56V579.0H54ZM56 574.7H58V578.6H56ZM58 574.7H60V578.3H58ZM60 574.7H62V577.9H60ZM62 574.7H64V577.6H62ZM64 574.7H66V577.2H64ZM66 574.7H68V576.9H66ZM68 573.5H70V576.5H68ZM70 573.5H72V576.2H70ZM72 573.5H74V575.8H72ZM74 573.5H76V575.5H74ZM76 573.5H78V575.1H76ZM78 573.5H80V574.8H78ZM80 573.5H82V574.4H80ZM82 573.5H84V574.1H82ZM84 573.5H86V573.7H84ZM110 565.4H112V569.2H110ZM112 565.4H114V568.8H112ZM114 565.4H116V568.4H114ZM116 565.4H118V568.0H116ZM118 565.4H120V567.6H118ZM120 565.4H122V567.2H120ZM122 565.0H124V566.8H122ZM124 565.0H126V566.4H124ZM126 565.0H128V566.0H126ZM128 565.0H130V565.6H128ZM130 565.0H132V565.2H130ZM134 563.8H136V564.4H134ZM136 563.8H138V564.0H136ZM376 480.0H378V488.9H376ZM378 480.0H380V488.2H378ZM380 480.0H382V487.5H380ZM382 480.0H384V486.7H382ZM384 480.0H386V486.0H384ZM386 475.9H388V485.3H386ZM388 475.9H390V484.6H388ZM390 475.9H392V483.9H390ZM392 475.9H394V483.2H392ZM394 475.9H396V482.4H394ZM396 475.9H398V481.7H396ZM398 468.8H400V481.0H398ZM400 468.8H402V480.3H400ZM402 468.8H404V479.6H402ZM404 468.8H406V478.8H404ZM406 463.8H408V478.1H406ZM408 463.8H410V477.4H408ZM410 463.8H412V476.7H410ZM412 463.8H414V475.9H412ZM414 463.8H415V475.2H414ZM415 463.8H417V474.4H415ZM417 463.8H419V473.7H417ZM419 463.8H421V473.0H419ZM421 458.4H423V472.2H421ZM423 458.4H425V471.5H423ZM425 458.4H427V470.7H425ZM427 458.4H429V470.0H427ZM429 458.4H431V469.2H429ZM431 458.4H433V468.5H431ZM433 458.4H435V467.7H433ZM435 458.4H437V467.0H435ZM437 458.4H439V466.2H437ZM439 449.8H441V465.5H439ZM441 449.8H443V464.8H441ZM443 445.6H445V464.0H443ZM445 445.6H447V463.3H445ZM447 445.6H449V462.5H447ZM449 445.6H451V461.8H449ZM451 445.6H453V461.0H451ZM453 445.6H455V460.3H453ZM455 445.6H457V459.5H455ZM457 445.6H459V458.8H457ZM459 445.6H461V458.0H459ZM461 445.6H463V457.3H461ZM463 445.6H465V456.5H463ZM465 445.6H467V455.8H465ZM467 445.6H469V455.1H467ZM469 445.6H471V454.3H469ZM471 445.6H473V453.6H471ZM473 442.5H475V452.6H473ZM475 442.5H477V451.6H475ZM477 442.5H479V450.6H477ZM479 442.5H481V449.6H479ZM481 442.5H483V448.6H481ZM483 442.5H485V447.6H483ZM485 442.5H487V446.6H485ZM487 442.5H489V445.7H487ZM489 442.5H491V444.7H489ZM491 442.5H493V443.7H491ZM493 440.0H495V442.7H493ZM495 440.0H497V441.7H495ZM497 440.0H499V440.7H497ZM567 405.8H569V411.6H567ZM569 405.8H571V410.9H569ZM571 405.8H573V410.2H571ZM573 405.8H575V409.6H573ZM575 405.8H577V408.9H575ZM577 405.8H579V408.2H577ZM579 405.8H581V407.6H579ZM581 405.8H583V406.9H581ZM583 405.8H585V406.2H583ZM707 365.6H709V366.1H707ZM713 358.8H715V364.2H713ZM715 358.8H717V363.5H715ZM717 358.8H719V363.0H717ZM719 357.5H721V362.6H719ZM721 357.5H723V362.1H721ZM723 357.5H725V361.7H723ZM725 357.5H727V361.2H725ZM727 357.5H729V360.8H727ZM729 357.5H731V360.3H729ZM731 357.5H733V359.9H731ZM733 357.5H735V359.4H733ZM735 357.5H737V359.0H735ZM737 357.5H739V358.5H737ZM739 351.9H741V358.1H739ZM741 351.9H743V357.6H741ZM743 349.4H745V357.1H743ZM745 349.4H747V356.7H745ZM747 349.4H749V356.2H747ZM749 349.4H751V355.8H749ZM751 349.4H753V355.3H751ZM753 349.4H755V354.9H753ZM755 343.1H757V354.4H755ZM757 343.1H759V354.0H757ZM759 341.2H761V353.5H759ZM761 341.2H763V353.1H761ZM763 341.2H765V352.6H763ZM765 341.2H767V352.2H765ZM767 341.2H769V351.7H767ZM769 330.9H771V351.3H769ZM771 330.9H773V350.8H771ZM773 330.9H775V350.3H773ZM775 330.9H777V349.9H775ZM777 330.9H777V349.4H777Z" fill="#006400" shape-rendering="crispEdges"/><polyline points="50.0,579.7 52.0,579.3 54.0,579.0 56.0,578.6 58.0,578.3 60.0,577.9 62.0,577.6 64.0,577.2 66.0,576.9 68.0,576.5 70.0,576.2 72.0,575.8 74.0,575.5 76.0,575.1 78.0,574.8 80.0,574.4 82.0,574.1 84.0,573.7 86.0,573.4 87.9,573.0 89.9,572.7 91.9,572.3 93.9,572.0 95.9,571.6 97.9,571.3 99.9,570.9 101.9,570.6 103.9,570.2 105.9,569.9 107.9,569.5 109.9,569.2 111.9,568.8 113.9,568.4 115.9,568.0 117.9,567.6 119.9,567.2 121.9,566.8 123.9,566.4 125.9,566.0 127.9,565.6 129.9,565.2 131.9,564.8 133.9,564.4 135.9,564.0 137.9,563.6 139.9,563.2 141.9,562.8 143.9,562.4 145.9,562.0 147.9,561.6 149.9,561.2 151.9,560.8 153.9,560.4 155.9,560.0 157.9,559.6 159.8,559.2 161.8,558.8 163.8,558.4 165.8,558.0 167.8,557.5 169.8,557.0 171.8,556.5 173.8,556.0 175.8,555.5 177.8,555.0 179.8,554.5 181.8,554.0 183.8,553.5 185.8,553.0 187.8,552.5 189.8,552.0 191.8,551.4 193.8,550.9 195.8,550.4 197.8,549.9 199.8,549.4 201.8,548.9 203.8,548.4 205.8,547.9 207.8,547.4 209.8,546.9 211.8,546.4 213.8,545.9 215.8,545.4 217.8,544.9 219.8,544.4 221.8,543.9 223.8,543.4 225.8,542.9 227.8,542.4 229.8,541.7 231.8,541.0 233.7,540.3 235.7,539.6 237.7,538.9 239.7,538.1 241.7,537.4 243.7,536.7 245.7,536.0 247.7,535.3 249.7,534.6 251.7,533.9 253.7,533.2 255.7,532.5 257.7,531.8 259.7,531.1 261.7,530.4 263.7,529.7 265.7,529.0 267.7,528.3 269.7,527.6 271.7,526.9 273.7,526.2 275.7,525.5 277.7,524.8 279.7,524.1 281.7,523.4 283.7,522.7 285.7,522.0 287.7,521.2 289.7,520.5 291.7,519.8 293.7,519.0 295.7,518.3 297.7,517.5 299.7,516.8 301.7,516.1 303.7,515.3 305.6,514.6 307.6,513.8 309.6,513.1 311.6,512.3 313.6,511.6 315.6,510.9 317.6,510.1 319.6,509.4 321.6,508.6 323.6,507.9 325.6,507.2 327.6,506.4 329.6,505.7 331.6,504.9 333.6,504.2 335.6,503.4 337.6,502.7 339.6,502.0 341.6,501.2 343.6,500.5 345.6,499.7 347.6,499.0 349.6,498.2 351.6,497.5 353.6,496.8 355.6,496.1 357.6,495.4 359.6,494.7 361.6,493.9 363.6,493.2 365.6,492.5 367.6,491.8 369.6,491.1 371.6,490.3 373.6,489.6 375.6,488.9 377.5,488.2 379.5,487.5 381.5,486.7 383.5,486.0 385.5,485.3 387.5,484.6 389.5,483.9 391.5,483.2 393.5,482.4 395.5,481.7 397.5,481.0 399.5,480.3 401.5,479.6 403.5,478.8 405.5,478.1 407.5,477.4 409.5,476.7 411.5,475.9 413.5,475.2 415.5,474.4 417.5,473.7 419.5,473.0 421.5,472.2 423.5,471.5 425.5,470.7 427.5,470.0 429.5,469.2 431.5,468.5 433.5,467.7 435.5,467.0 437.5,466.2 439.5,465.5 441.5,464.8 443.5,464.0 445.5,463.3 447.5,462.5 449.5,461.8 451.4,461.0 453.4,460.3 455.4,459.5 457.4,458.8 459.4,458.0 461.4,457.3 463.4,456.5 465.4,455.8 467.4,455.1 469.4,454.3 471.4,453.6 473.4,452.6 475.4,451.6 477.4,450.6 479.4,449.6 481.4,448.6 483.4,447.6 485.4,446.6 487.4,445.7 489.4,444.7 491.4,443.7 493.4,442.7 495.4,441.7 497.4,440.7 499.4,439.7 501.4,438.7 503.4,437.8 505.4,436.8 507.4,435.8 509.4,434.8 511.4,433.8 513.4,432.8 515.4,431.8 517.4,430.8 519.4,429.9 521.4,428.9 523.3,427.9 525.3,426.9 527.3,425.9 529.3,424.9 531.3,423.9 533.3,422.9 535.3,422.3 537.3,421.6 539.3,420.9 541.3,420.3 543.3,419.6 545.3,418.9 547.3,418.3 549.3,417.6 551.3,416.9 553.3,416.2 555.3,415.6 557.3,414.9 559.3,414.2 561.3,413.6 563.3,412.9 565.3,412.2 567.3,411.6 569.3,410.9 571.3,410.2 573.3,409.6 575.3,408.9 577.3,408.2 579.3,407.6 581.3,406.9 583.3,406.2 585.3,405.6 587.3,404.9 589.3,404.2 591.3,403.5 593.3,402.9 595.2,402.2 597.2,401.6 599.2,401.0 601.2,400.3 603.2,399.7 605.2,399.1 607.2,398.4 609.2,397.8 611.2,397.2 613.2,396.5 615.2,395.9 617.2,395.3 619.2,394.6 621.2,394.0 623.2,393.3 625.2,392.7 627.2,392.1 629.2,391.4 631.2,390.8 633.2,390.2 635.2,389.5 637.2,388.9 639.2,388.3 641.2,387.6 643.2,387.0 645.2,386.4 647.2,385.7 649.2,385.1 651.2,384.5 653.2,383.8 655.2,383.2 657.2,382.5 659.2,381.9 661.2,381.2 663.2,380.6 665.2,379.9 667.2,379.3 669.1,378.6 671.1,377.9 673.1,377.3 675.1,376.6 677.1,376.0 679.1,375.3 681.1,374.7 683.1,374.0 685.1,373.3 687.1,372.7 689.1,372.0 691.1,371.4 693.1,370.7 695.1,370.1 697.1,369.4 699.1,368.8 701.1,368.1 703.1,367.4 705.1,366.8 707.1,366.1 709.1,365.5 711.1,364.8 713.1,364.2 715.1,363.5 717.1,363.0 719.1,362.6 721.1,362.1 723.1,361.7 725.1,361.2 727.1,360.8 729.1,360.3 731.1,359.9 733.1,359.4 735.1,359.0 737.1,358.5 739.1,358.1 741.0,357.6 743.0,357.1 745.0,356.7 747.0,356.2 749.0,355.8 751.0,355.3 753.0,354.9 755.0,354.4 757.0,354.0 759.0,353.5 761.0,353.1 763.0,352.6 765.0,352.2 767.0,351.7 769.0,351.3 771.0,350.8 773.0,350.3 775.0,349.9 777.0,349.4" fill="none" stroke="#f4f450" stroke-width="1.3"/></g>
<g id="snow"><path d="M50 679.5H52V680.0H50ZM52 679.1H54V680.0H52ZM54 678.6H56V680.0H54ZM56 678.1H58V680.0H56ZM58 677.7H60V680.0H58ZM60 677.2H62V680.0H60ZM62 676.7H64V680.0H62ZM64 676.3H66V680.0H64ZM66 675.8H68V680.0H66ZM68 675.3H70V680.0H68ZM70 674.9H72V680.0H70ZM72 674.4H74V680.0H72ZM74 673.9H76V680.0H74ZM76 673.5H78V680.0H76ZM78 673.0H80V680.0H78ZM80 672.5H82V680.0H80ZM82 672.0H84V680.0H82ZM84 671.6H86V680.0H84ZM86 671.1H88V680.0H86ZM88 670.6H90V680.0H88ZM90 670.2H92V680.0H90ZM92 669.7H94V680.0H92ZM94 669.2H96V680.0H94ZM96 668.8H98V680.0H96ZM98 668.3H100V680.0H98ZM100 667.8H102V680.0H100ZM102 667.4H104V680.0H102ZM104 666.9H106V680.0H104ZM106 666.4H108V680.0H106ZM108 666.0H110V680.0H108ZM110 665.5H112V680.0H110ZM112 665.1H114V680.0H112ZM114 664.7H116V680.0H114ZM116 664.3H118V680.0H116ZM118 663.9H120V680.0H118ZM120 663.5H122V680.0H120ZM122 663.1H124V680.0H122ZM124 662.7H126V680.0H124ZM126 662.3H128V680.0H126ZM128 661.9H130V680.0H128ZM130 661.5H132V680.0H130ZM132 661.1H134V680.0H132ZM134 660.7H136V680.0H134ZM136 660.3H138V680.0H136ZM138 659.9H140V680.0H138ZM140 659.5H142V680.0H140ZM142 659.1H144V680.0H142ZM144 658.7H146V680.0H144ZM146 658.3H148V680.0H146ZM148 658.0H150V680.0H148ZM150 657.6H152V680.0H150ZM152 657.2H154V680.0H152ZM154 656.8H156V680.0H154ZM156 656.4H158V680.0H156ZM158 656.0H160V680.0H158ZM160 655.6H162V680.0H160ZM162 655.2H164V680.0H162ZM164 654.8H166V680.0H164ZM166 654.4H168V680.0H166ZM168 654.2H170V680.0H168ZM170 653.9H172V680.0H170ZM172 653.7H174V680.0H172ZM174 653.5H176V680.0H174ZM176 653.3H178V680.0H176ZM178 653.0H180V680.0H178ZM180 652.8H182V680.0H180ZM182 652.6H184V680.0H182ZM184 652.4H186V680.0H184ZM186 652.2H188V680.0H186ZM188 651.9H190V680.0H188ZM190 651.7H192V680.0H190ZM192 651.5H194V680.0H192ZM194 651.3H196V680.0H194ZM196 651.0H198V680.0H196ZM198 650.8H200V680.0H198ZM200 650.6H202V680.0H200ZM202 650.4H204V680.0H202ZM204 650.2H206V680.0H204ZM206 649.9H208V680.0H206ZM208 649.7H210V680.0H208ZM210 649.5H212V680.0H210ZM212 649.3H214V680.0H212ZM214 649.1H216V680.0H214ZM216 648.8H218V680.0H216ZM218 648.6H220V680.0H218ZM220 648.4H222V680.0H220ZM222 648.2H224V680.0H222ZM224 647.9H226V680.0H224ZM226 647.7H228V680.0H226ZM228 647.5H230V680.0H228ZM230 647.5H232V680.0H230ZM232 647.4H234V680.0H232ZM234 647.4H236V680.0H234ZM236 647.3H238V680.0H236ZM238 647.2H240V680.0H238ZM240 647.2H242V680.0H240ZM242 647.2H244V680.0H242ZM244 647.1H246V680.0H244ZM246 647.1H248V680.0H246ZM248 647.0H250V680.0H248ZM250 647.0H252V680.0H250ZM252 646.9H254V680.0H252ZM254 646.9H256V680.0H254ZM256 646.8H258V680.0H256ZM258 646.8H260V680.0H258ZM260 646.7H262V680.0H260ZM262 646.7H264V680.0H262ZM264 646.6H266V680.0H264ZM266 646.6H268V680.0H266ZM268 646.5H270V680.0H268ZM270 646.5H272V680.0H270ZM272 646.4H274V680.0H272ZM274 646.4H276V680.0H274ZM276 646.3H278V680.0H276ZM278 646.3H280V680.0H278ZM280 646.2H282V680.0H280ZM282 646.2H284V680.0H282ZM284 646.1H286V680.0H284ZM286 646.1H288V680.0H286ZM288 646.0H290V680.0H288ZM290 646.0H292V680.0H290ZM292 646.0H294V680.0H292ZM294 646.0H296V680.0H294ZM296 646.0H298V680.0H296ZM298 646.0H300V680.0H298ZM300 646.0H302V680.0H300ZM302 646.0H304V680.0H302ZM304 646.0H306V680.0H304ZM306 646.0H308V680.0H306ZM308 646.0H310V680.0H308ZM310 646.0H312V680.0H310ZM312 646.0H314V680.0H312ZM314 646.0H316V680.0H314ZM316 646.0H318V680.0H316ZM318 646.0H320V680.0H318ZM320 646.0H322V680.0H320ZM322 646.0H324V680.0H322ZM324 646.0H326V680.0H324ZM326 646.0H328V680.0H326ZM328 646.0H330V680.0H328ZM330 646.0H332V680.0H330ZM332 646.0H334V680.0H332ZM334 646.0H336V680.0H334ZM336 646.0H338V680.0H336ZM338 646.0H340V680.0H338ZM340 646.0H342V680.0H340ZM342 646.0H344V680.0H342ZM344 646.0H346V680.0H344ZM346 646.0H348V680.0H346ZM348 646.0H350V680.0H348ZM350 646.0H352V680.0H350ZM352 646.0H354V680.0H352ZM354 646.0H356V680.0H354ZM356 646.0H358V680.0H356ZM358 646.0H360V680.0H358ZM360 646.0H362V680.0H360ZM362 646.0H364V680.0H362ZM364 646.0H366V680.0H364ZM366 646.0H368V680.0H366ZM368 646.0H370V680.0H368ZM370 646.0H372V680.0H370ZM372 646.0H374V680.0H372ZM374 646.0H376V680.0H374ZM376 646.0H378V680.0H376ZM378 646.0H380V680.0H378ZM380 646.0H382V680.0H380ZM382 646.0H384V680.0H382ZM384 646.0H386V680.0H384ZM386 646.0H388V680.0H386ZM388 646.0H390V680.0H388ZM390 646.0H392V680.0H390ZM392 646.0H394V680.0H392ZM394 646.0H396V680.0H394ZM396 646.0H398V680.0H396ZM398 646.0H400V680.0H398ZM400 646.0H402V680.0H400ZM402 646.0H404V680.0H402ZM404 646.0H406V680.0H404ZM406 646.0H408V680.0H406ZM408 646.0H410V680.0H408ZM410 646.0H412V680.0H410ZM412 646.0H414V680.0H412ZM414 646.0H415V680.0H414ZM415 646.0H417V680.0H415ZM417 646.0H419V680.0H417ZM419 646.0H421V680.0H419ZM421 646.0H423V680.0H421ZM423 646.0H425V680.0H423ZM425 646.0H427V680.0H425ZM427 646.0H429V680.0H427ZM429 646.0H431V680.0H429ZM431 646.0H433V680.0H431ZM433 646.0H435V680.0H433ZM435 646.0H437V680.0H435ZM437 646.0H439V680.0H437ZM439 646.0H441V680.0H439ZM441 646.0H443V680.0H441ZM443 646.0H445V680.0H443ZM445 646.0H447V680.0H445ZM447 646.0H449V680.0H447ZM449 646.0H451V680.0H449ZM451 646.0H453V680.0H451ZM453 646.0H455V680.0H453ZM455 646.0H457V680.0H455ZM457 646.0H459V680.0H457ZM459 646.0H461V680.0H459ZM461 646.0H463V680.0H461ZM463 646.0H465V680.0H463ZM465 646.0H467V680.0H465ZM467 646.0H469V680.0H467ZM469 646.0H471V680.0H469ZM471 646.0H473V680.0H471ZM473 646.0H475V680.0H473ZM475 646.0H477V680.0H475ZM477 646.0H479V680.0H477ZM479 646.0H481V680.0H479ZM481 646.0H483V680.0H481ZM483 646.0H485V680.0H483ZM485 646.0H487V680.0H485ZM487 646.0H489V680.0H487ZM489 646.0H491V680.0H489ZM491 646.0H493V680.0H491ZM493 646.0H495V680.0H493ZM495 646.0H497V680.0H495ZM497 646.0H499V680.0H497ZM499 646.0H501V680.0H499ZM501 646.0H503V680.0H501ZM503 646.0H505V680.0H503ZM505 646.0H507V680.0H505ZM507 646.0H509V680.0H507ZM509 646.0H511V680.0H509ZM511 646.0H513V680.0H511ZM513 646.0H515V680.0H513ZM515 646.0H517V680.0H515ZM517 646.0H519V680.0H517ZM519 646.0H521V680.0H519ZM521 646.0H523V680.0H521ZM523 646.0H525V680.0H523ZM525 646.0H527V680.0H525ZM527 646.0H529V680.0H527ZM529 646.0H531V680.0H529ZM531 646.0H533V680.0H531ZM533 646.0H535V680.0H533ZM535 646.0H537V680.0H535ZM537 646.0H539V680.0H537ZM539 646.0H541V680.0H539ZM541 646.0H543V680.0H541ZM543 646.0H545V680.0H543ZM545 646.0H547V680.0H545ZM547 646.0H549V680.0H547ZM549 646.0H551V680.0H549ZM551 646.0H553V680.0H551ZM553 646.0H555V680.0H553ZM555 646.0H557V680.0H555ZM557 646.0H559V680.0H557ZM559 646.0H561V680.0H559ZM561 646.0H563V680.0H561ZM563 646.0H565V680.0H563ZM565 646.0H567V680.0H565ZM567 646.0H569V680.0H567ZM569 646.0H571V680.0H569ZM571 646.0H573V680.0H571ZM573 646.0H575V680.0H573ZM575 646.0H577V680.0H575ZM577 646.0H579V680.0H577ZM579 646.0H581V680.0H579ZM581 646.0H583V680.0H581ZM583 646.0H585V680.0H583ZM585 646.0H587V680.0H585ZM587 646.0H589V680.0H587ZM589 646.0H591V680.0H589ZM591 646.0H593V680.0H591ZM593 646.0H595V680.0H593ZM595 646.0H597V680.0H595ZM597 646.0H599V680.0H597ZM599 646.0H601V680.0H599ZM601 646.0H603V680.0H601ZM603 646.0H605V680.0H603ZM605 646.0H607V680.0H605ZM607 646.0H609V680.0H607ZM609 646.0H611V680.0H609ZM611 646.0H613V680.0H611ZM613 646.0H615V680.0H613ZM615 646.0H617V680.0H615ZM617 646.0H619V680.0H617ZM619 645.9H621V680.0H619ZM621 645.9H623V680.0H621ZM623 645.9H625V680.0H623ZM625 645.9H627V680.0H625ZM627 645.9H629V680.0H627ZM629 645.9H631V680.0H629ZM631 645.9H633V680.0H631ZM633 645.9H635V680.0H633ZM635 645.9H637V680.0H635ZM637 645.9H639V680.0H637ZM639 645.9H641V680.0H639ZM641 645.9H643V680.0H641ZM643 645.9H645V680.0H643ZM645 645.9H647V680.0H645ZM647 645.9H649V680.0H647ZM649 645.9H651V680.0H649ZM651 645.9H653V680.0H651ZM653 645.9H655V680.0H653ZM655 645.9H657V680.0H655ZM657 645.8H659V680.0H657ZM659 645.8H661V680.0H659ZM661 645.7H663V680.0H661ZM663 645.6H665V680.0H663ZM665 645.6H667V680.0H665ZM667 645.5H669V680.0H667ZM669 645.5H671V680.0H669ZM671 645.4H673V680.0H671ZM673 645.4H675V680.0H673ZM675 645.3H677V680.0H675ZM677 645.2H679V680.0H677ZM679 645.2H681V680.0H679ZM681 645.1H683V680.0H681ZM683 645.1H685V680.0H683ZM685 645.0H687V680.0H685ZM687 644.9H689V680.0H687ZM689 644.9H691V680.0H689ZM691 644.8H693V680.0H691ZM693 644.8H695V680.0H693ZM695 644.7H697V680.0H695ZM697 644.7H699V680.0H697ZM699 644.6H701V680.0H699ZM701 644.5H703V680.0H701ZM703 644.5H705V680.0H703ZM705 644.4H707V680.0H705ZM707 644.4H709V680.0H707ZM709 644.3H711V680.0H709ZM711 644.2H713V680.0H711ZM713 644.2H715V680.0H713ZM715 644.1H717V680.0H715ZM717 643.8H719V680.0H717ZM719 643.5H721V680.0H719ZM721 643.3H723V680.0H721ZM723 643.0H725V680.0H723ZM725 642.7H727V680.0H725ZM727 642.4H729V680.0H727ZM729 642.1H731V680.0H729ZM731 641.8H733V680.0H731ZM733 641.5H735V680.0H733ZM735 641.2H737V680.0H735ZM737 640.9H739V680.0H737ZM739 640.6H741V680.0H739ZM741 640.4H743V680.0H741ZM743 640.1H745V680.0H743ZM745 639.8H747V680.0H745ZM747 639.5H749V680.0H747ZM749 639.2H751V680.0H749ZM751 638.9H753V680.0H751ZM753 638.6H755V680.0H753ZM755 638.3H757V680.0H755ZM757 638.0H759V680.0H757ZM759 637.7H761V680.0H759ZM761 637.4H763V680.0H761ZM763 637.2H765V680.0H763ZM765 636.9H767V680.0H765ZM767 636.6H769V680.0H767ZM769 636.3H771V680.0H769ZM771 636.0H773V680.0H771ZM773 635.7H775V680.0H773ZM775 635.4H777V680.0H775ZM777 635.1H777V680.0H777Z" fill="#80ff80" shape-rendering="crispEdges"/><path d="" fill="#b0b050" shape-rendering="crispEdges"/><path d="M50 678.1H52V679.5H50ZM52 678.1H54V679.1H52ZM54 677.0H56V678.6H54ZM56 674.1H58V678.1H56ZM58 674.1H60V677.7H58ZM60 674.1H62V677.2H60ZM62 669.8H64V676.7H62ZM64 669.8H66V676.3H64ZM66 669.8H68V675.8H66ZM68 669.8H70V675.3H68ZM70 666.4H72V674.9H70ZM72 666.4H74V674.4H72ZM74 666.4H76V673.9H74ZM76 666.4H78V673.5H76ZM78 666.4H80V673.0H78ZM80 666.4H82V672.5H80ZM82 666.4H84V672.0H82ZM84 666.4H86V671.6H84ZM86 666.4H88V671.1H86ZM88 666.4H90V670.6H88ZM90 666.4H92V670.2H90ZM92 666.4H94V669.7H92ZM94 666.4H96V669.2H94ZM96 664.9H98V668.8H96ZM98 664.9H100V668.3H98ZM100 664.9H102V667.8H100ZM102 664.9H104V667.4H102ZM104 664.9H106V666.9H104ZM106 664.9H108V666.4H106ZM108 663.1H110V666.0H108ZM110 639.9H112V665.5H110ZM112 639.9H114V665.1H112ZM114 637.5H116V664.7H114ZM116 637.5H118V664.3H116ZM118 637.5H120V663.9H118ZM120 637.5H122V663.5H120ZM122 637.5H124V663.1H122ZM124 637.5H126V662.7H124ZM126 637.5H128V662.3H126ZM128 636.8H130V661.9H128ZM130 636.8H132V661.5H130ZM132 636.8H134V661.1H132ZM134 636.8H136V660.7H134ZM136 636.8H138V660.3H136ZM138 636.8H140V659.9H138ZM140 636.8H142V659.5H140ZM142 636.8H144V659.1H142ZM144 636.8H146V658.7H144ZM146 636.8H148V658.3H146ZM148 636.8H150V658.0H148ZM150 635.9H152V657.6H150ZM152 635.9H154V657.2H152ZM154 635.9H156V656.8H154ZM156 635.9H158V656.4H156ZM158 635.9H160V656.0H158ZM160 629.1H162V655.6H160ZM162 629.1H164V655.2H162ZM164 629.1H166V654.8H164ZM166 629.1H168V654.4H166ZM168 629.1H170V654.2H168ZM170 628.1H172V653.9H170ZM172 628.1H174V653.7H172ZM174 628.1H176V653.5H174ZM176 628.1H178V653.3H176ZM178 628.1H180V653.0H178ZM180 628.1H182V652.8H180ZM182 628.1H184V652.6H182ZM184 628.1H186V652.4H184ZM186 628.1H188V652.2H186ZM188 628.1H190V651.9H188ZM190 628.1H192V651.7H190ZM192 628.1H194V651.5H192ZM194 628.1H196V651.3H194ZM196 628.1H198V651.0H196ZM198 628.1H200V650.8H198ZM200 628.1H202V650.6H200ZM202 628.1H204V650.4H202ZM204 628.1H206V650.2H204ZM206 628.1H208V649.9H206ZM208 628.1H210V649.7H208ZM210 621.4H212V649.5H210ZM212 621.4H214V649.3H212ZM214 621.4H216V649.1H214ZM216 621.4H218V648.8H216ZM218 620.0H220V648.6H218ZM220 620.0H222V648.4H220ZM222 620.0H224V648.2H222ZM224 620.0H226V647.9H224ZM226 620.0H228V647.7H226ZM228 620.0H230V647.5H228ZM230 620.0H232V647.5H230ZM232 620.0H234V647.4H232ZM234 620.0H236V647.4H234ZM236 620.0H238V647.3H236ZM238 620.0H240V647.2H238ZM240 620.0H242V647.2H240ZM242 620.0H244V647.2H242ZM244 620.0H246V647.1H244ZM246 620.0H248V647.1H246ZM248 620.0H250V647.0H248ZM250 620.0H252V647.0H250ZM252 620.0H254V646.9H252ZM254 620.0H256V646.9H254ZM256 620.0H258V646.8H256ZM258 620.0H260V646.8H258ZM260 620.0H262V646.7H260ZM262 620.0H264V646.7H262ZM264 620.0H266V646.6H264ZM266 620.0H268V646.6H266ZM268 620.0H270V646.5H268ZM270 620.0H272V646.5H270ZM272 620.0H274V646.4H272ZM274 620.0H276V646.4H274ZM276 620.0H278V646.3H276ZM278 620.0H280V646.3H278ZM280 620.0H282V646.2H280ZM282 620.0H284V646.2H282ZM284 620.0H286V646.1H284ZM286 620.0H288V646.1H286ZM288 620.0H290V646.0H288ZM290 620.0H292V646.0H290ZM292 620.0H294V646.0H292ZM294 620.0H296V646.0H294ZM296 620.0H298V646.0H296ZM298 620.0H300V646.0H298ZM300 620.0H302V646.0H300ZM302 620.0H304V646.0H302ZM304 620.0H306V646.0H304ZM306 620.0H308V646.0H306ZM308 620.0H310V646.0H308ZM310 620.0H312V646.0H310ZM312 620.0H314V646.0H312ZM314 620.0H316V646.0H314ZM316 620.0H318V646.0H316ZM318 620.0H320V646.0H318ZM320 620.0H322V646.0H320ZM322 620.0H324V646.0H322ZM324 620.0H326V646.0H324ZM326 620.0H328V646.0H326ZM328 620.0H330V646.0H328ZM330 620.0H332V646.0H330ZM332 620.0H334V646.0H332ZM334 620.0H336V646.0H334ZM336 620.0H338V646.0H336ZM338 620.0H340V646.0H338ZM340 620.0H342V646.0H340ZM342 620.0H344V646.0H342ZM344 620.0H346V646.0H344ZM346 620.0H348V646.0H346ZM348 620.0H350V646.0H348ZM350 620.0H352V646.0H350ZM352 620.0H354V646.0H352ZM354 620.0H356V646.0H354ZM356 620.0H358V646.0H356ZM358 620.0H360V646.0H358ZM360 620.0H362V646.0H360ZM362 620.0H364V646.0H362ZM364 620.0H366V646.0H364ZM366 620.0H368V646.0H366ZM368 620.0H370V646.0H368ZM370 620.0H372V646.0H370ZM372 620.0H374V646.0H372ZM374 620.0H376V646.0H374ZM376 620.0H378V646.0H376ZM378 620.0H380V646.0H378ZM380 620.0H382V646.0H380ZM382 620.0H384V646.0H382ZM384 620.0H386V646.0H384ZM386 620.0H388V646.0H386ZM388 620.0H390V646.0H388ZM390 620.0H392V646.0H390ZM392 620.0H394V646.0H392ZM394 620.0H396V646.0H394ZM396 620.0H398V646.0H396ZM398 620.0H400V646.0H398ZM400 620.0H402V646.0H400ZM402 620.0H404V646.0H402ZM404 620.0H406V646.0H404ZM406 620.0H408V646.0H406ZM408 620.0H410V646.0H408ZM410 620.0H412V646.0H410ZM412 620.0H414V646.0H412ZM414 620.0H415V646.0H414ZM415 620.0H417V646.0H415ZM417 620.0H419V646.0H417ZM419 620.0H421V646.0H419ZM421 620.0H423V646.0H421ZM423 620.0H425V646.0H423ZM425 620.0H427V646.0H425ZM427 620.0H429V646.0H427ZM429 620.0H431V646.0H429ZM431 620.0H433V646.0H431ZM433 620.0H435V646.0H433ZM435 620.0H437V646.0H435ZM437 620.0H439V646.0H437ZM439 620.0H441V646.0H439ZM441 620.0H443V646.0H441ZM443 620.0H445V646.0H443ZM445 620.0H447V646.0H445ZM447 620.0H449V646.0H447ZM449 620.0H451V646.0H449ZM451 620.0H453V646.0H451ZM453 620.0H455V646.0H453ZM455 620.0H457V646.0H455ZM457 620.0H459V646.0H457ZM459 620.0H461V646.0H459ZM461 620.0H463V646.0H461ZM463 620.0H465V646.0H463ZM465 620.0H467V646.0H465ZM467 620.0H469V646.0H467ZM469 620.0H471V646.0H469ZM471 620.0H473V646.0H471ZM473 620.0H475V646.0H473ZM475 620.0H477V646.0H475ZM477 620.0H479V646.0H477ZM479 620.0H481V646.0H479ZM481 620.0H483V646.0H481ZM483 620.0H485V646.0H483ZM485 620.0H487V646.0H485ZM487 620.0H489V646.0H487ZM489 620.0H491V646.0H489ZM491 620.0H493V646.0H491ZM493 620.0H495V646.0H493ZM495 620.0H497V646.0H495ZM497 620.0H499V646.0H497ZM499 620.0H501V646.0H499ZM501 620.0H503V646.0H501ZM503 620.0H505V646.0H503ZM505 620.0H507V646.0H505ZM507 620.0H509V646.0H507ZM509 620.0H511V646.0H509ZM511 620.0H513V646.0H511ZM513 620.0H515V646.0H513ZM515 620.0H517V646.0H515ZM517 620.0H519V646.0H517ZM519 620.0H521V646.0H519ZM521 620.0H523V646.0H521ZM523 620.0H525V646.0H523ZM525 620.0H527V646.0H525ZM527 620.0H529V646.0H527ZM529 620.0H531V646.0H529ZM531 620.0H533V646.0H531ZM533 620.0H535V646.0H533ZM535 620.0H537V646.0H535ZM537 620.0H539V646.0H537ZM539 620.0H541V646.0H539ZM541 620.0H543V646.0H541ZM543 620.0H545V646.0H543ZM545 620.0H547V646.0H545ZM547 620.0H549V646.0H547ZM549 620.0H551V646.0H549ZM551 620.0H553V646.0H551ZM553 620.0H555V646.0H553ZM555 620.0H557V646.0H555ZM557 620.0H559V646.0H557ZM559 620.0H561V646.0H559ZM561 620.0H563V646.0H561ZM563 620.0H565V646.0H563ZM565 620.0H567V646.0H565ZM567 620.0H569V646.0H567ZM569 620.0H571V646.0H569ZM571 620.0H573V646.0H571ZM573 620.0H575V646.0H573ZM575 620.0H577V646.0H575ZM577 620.0H579V646.0H577ZM579 620.0H581V646.0H579ZM581 620.0H583V646.0H581ZM583 620.0H585V646.0H583ZM585 620.0H587V646.0H585ZM587 620.0H589V646.0H587ZM589 620.0H591V646.0H589ZM591 620.0H593V646.0H591ZM593 620.0H595V646.0H593ZM595 620.0H597V646.0H595ZM597 620.0H599V646.0H597ZM599 620.0H601V646.0H599ZM601 620.0H603V646.0H601ZM603 620.0H605V646.0H603ZM605 620.0H607V646.0H605ZM607 620.0H609V646.0H607ZM609 620.0H611V646.0H609ZM611 620.0H613V646.0H611ZM613 620.0H615V646.0H613ZM615 620.0H617V646.0H615ZM617 620.0H619V646.0H617ZM619 620.0H621V645.9H619ZM621 620.0H623V645.9H621ZM623 620.0H625V645.9H623ZM625 620.0H627V645.9H625ZM627 620.0H629V645.9H627ZM629 620.0H631V645.9H629ZM631 620.0H633V645.9H631ZM633 620.0H635V645.9H633ZM635 620.0H637V645.9H635ZM637 620.0H639V645.9H637ZM639 620.0H641V645.9H639ZM641 620.0H643V645.9H641ZM643 620.0H645V645.9H643ZM645 620.0H647V645.9H645ZM647 620.0H649V645.9H647ZM649 620.0H651V645.9H649ZM651 620.0H653V645.9H651ZM653 620.0H655V645.9H653ZM655 620.0H657V645.9H655ZM657 620.0H659V645.8H657ZM659 620.0H661V645.8H659ZM661 620.0H663V645.7H661ZM663 620.0H665V645.6H663ZM665 620.0H667V645.6H665ZM667 620.0H669V645.5H667ZM669 620.0H671V645.5H669ZM671 620.0H673V645.4H671ZM673 620.0H675V645.4H673ZM675 620.0H677V645.3H675ZM677 620.0H679V645.2H677ZM679 620.0H681V645.2H679ZM681 620.0H683V645.1H681ZM683 620.0H685V645.1H683ZM685 620.0H687V645.0H685ZM687 620.0H689V644.9H687ZM689 620.0H691V644.9H689ZM691 620.0H693V644.8H691ZM693 620.0H695V644.8H693ZM695 615.2H697V644.7H695ZM697 605.8H699V644.7H697ZM699 605.8H701V644.6H699ZM701 605.8H703V644.5H701ZM703 605.8H705V644.5H703ZM705 605.8H707V644.4H705ZM707 605.8H709V644.4H707ZM709 605.8H711V644.3H709ZM711 605.8H713V644.2H711ZM713 605.8H715V644.2H713ZM715 605.8H717V644.1H715ZM717 604.4H719V643.8H717ZM719 604.4H721V643.5H719ZM721 604.4H723V643.3H721ZM723 604.4H725V643.0H723ZM725 604.4H727V642.7H725ZM727 604.4H729V642.4H727ZM729 604.4H731V642.1H729ZM731 604.4H733V641.8H731ZM733 604.4H735V641.5H733ZM735 604.4H737V641.2H735ZM737 604.4H739V640.9H737ZM739 604.4H741V640.6H739ZM741 604.4H743V640.4H741ZM743 604.4H745V640.1H743ZM745 604.4H747V639.8H745ZM747 604.4H749V639.5H747ZM749 604.4H751V639.2H749ZM751 604.4H753V638.9H751ZM753 604.4H755V638.6H753ZM755 604.4H757V638.3H755ZM757 604.4H759V638.0H757ZM759 604.4H761V637.7H759ZM761 604.4H763V637.4H761ZM763 604.4H765V637.2H763ZM765 604.4H767V636.9H765ZM767 604.4H769V636.6H767ZM769 602.4H771V636.3H769ZM771 602.4H773V636.0H771ZM773 600.6H775V635.7H773ZM775 600.6H777V635.4H775ZM777 600.6H777V635.1H777Z" fill="#006400" shape-rendering="crispEdges"/><polyline points="50.0,679.5 52.0,679.1 54.0,678.6 56.0,678.1 58.0,677.7 60.0,677.2 62.0,676.7 64.0,676.3 66.0,675.8 68.0,675.3 70.0,674.9 72.0,674.4 74.0,673.9 76.0,673.5 78.0,673.0 80.0,672.5 82.0,672.0 84.0,671.6 86.0,671.1 87.9,670.6 89.9,670.2 91.9,669.7 93.9,669.2 95.9,668.8 97.9,668.3 99.9,667.8 101.9,667.4 103.9,666.9 105.9,666.4 107.9,666.0 109.9,665.5 111.9,665.1 113.9,664.7 115.9,664.3 117.9,663.9 119.9,663.5 121.9,663.1 123.9,662.7 125.9,662.3 127.9,661.9 129.9,661.5 131.9,661.1 133.9,660.7 135.9,660.3 137.9,659.9 139.9,659.5 141.9,659.1 143.9,658.7 145.9,658.3 147.9,658.0 149.9,657.6 151.9,657.2 153.9,656.8 155.9,656.4 157.9,656.0 159.8,655.6 161.8,655.2 163.8,654.8 165.8,654.4 167.8,654.2 169.8,653.9 171.8,653.7 173.8,653.5 175.8,653.3 177.8,653.0 179.8,652.8 181.8,652.6 183.8,652.4 185.8,652.2 187.8,651.9 189.8,651.7 191.8,651.5 193.8,651.3 195.8,651.0 197.8,650.8 199.8,650.6 201.8,650.4 203.8,650.2 205.8,649.9 207.8,649.7 209.8,649.5 211.8,649.3 213.8,649.1 215.8,648.8 217.8,648.6 219.8,648.4 221.8,648.2 223.8,647.9 225.8,647.7 227.8,647.5 229.8,647.5 231.8,647.4 233.7,647.4 235.7,647.3 237.7,647.2 239.7,647.2 241.7,647.2 243.7,647.1 245.7,647.1 247.7,647.0 249.7,647.0 251.7,646.9 253.7,646.9 255.7,646.8 257.7,646.8 259.7,646.7 261.7,646.7 263.7,646.6 265.7,646.6 267.7,646.5 269.7,646.5 271.7,646.4 273.7,646.4 275.7,646.3 277.7,646.3 279.7,646.2 281.7,646.2 283.7,646.1 285.7,646.1 287.7,646.0 289.7,646.0 291.7,646.0 293.7,646.0 295.7,646.0 297.7,646.0 299.7,646.0 301.7,646.0 303.7,646.0 305.6,646.0 307.6,646.0 309.6,646.0 311.6,646.0 313.6,646.0 315.6,646.0 317.6,646.0 319.6,646.0 321.6,646.0 323.6,646.0 325.6,646.0 327.6,646.0 329.6,646.0 331.6,646.0 333.6,646.0 335.6,646.0 337.6,646.0 339.6,646.0 341.6,646.0 343.6,646.0 345.6,646.0 347.6,646.0 349.6,646.0 351.6,646.0 353.6,646.0 355.6,646.0 357.6,646.0 359.6,646.0 361.6,646.0 363.6,646.0 365.6,646.0 367.6,646.0 369.6,646.0 371.6,646.0 373.6,646.0 375.6,646.0 377.5,646.0 379.5,646.0 381.5,646.0 383.5,646.0 385.5,646.0 387.5,646.0 389.5,646.0 391.5,646.0 393.5,646.0 395.5,646.0 397.5,646.0 399.5,646.0 401.5,646.0 403.5,646.0 405.5,646.0 407.5,646.0 409.5,646.0 411.5,646.0 413.5,646.0 415.5,646.0 417.5,646.0 419.5,646.0 421.5,646.0 423.5,646.0 425.5,646.0 427.5,646.0 429.5,646.0 431.5,646.0 433.5,646.0 435.5,646.0 437.5,646.0 439.5,646.0 441.5,646.0 443.5,646.0 445.5,646.0 447.5,646.0 449.5,646.0 451.4,646.0 453.4,646.0 455.4,646.0 457.4,646.0 459.4,646.0 461.4,646.0 463.4,646.0 465.4,646.0 467.4,646.0 469.4,646.0 471.4,646.0 473.4,646.0 475.4,646.0 477.4,646.0 479.4,646.0 481.4,646.0 483.4,646.0 485.4,646.0 487.4,646.0 489.4,646.0 491.4,646.0 493.4,646.0 495.4,646.0 497.4,646.0 499.4,646.0 501.4,646.0 503.4,646.0 505.4,646.0 507.4,646.0 509.4,646.0 511.4,646.0 513.4,646.0 515.4,646.0 517.4,646.0 519.4,646.0 521.4,646.0 523.3,646.0 525.3,646.0 527.3,646.0 529.3,646.0 531.3,646.0 533.3,646.0 535.3,646.0 537.3,646.0 539.3,646.0 541.3,646.0 543.3,646.0 545.3,646.0 547.3,646.0 549.3,646.0 551.3,646.0 553.3,646.0 555.3,646.0 557.3,646.0 559.3,646.0 561.3,646.0 563.3,646.0 565.3,646.0 567.3,646.0 569.3,646.0 571.3,646.0 573.3,646.0 575.3,646.0 577.3,646.0 579.3,646.0 581.3,646.0 583.3,646.0 585.3,646.0 587.3,646.0 589.3,646.0 591.3,646.0 593.3,646.0 595.2,646.0 597.2,646.0 599.2,646.0 601.2,646.0 603.2,646.0 605.2,646.0 607.2,646.0 609.2,646.0 611.2,646.0 613.2,646.0 615.2,646.0 617.2,646.0 619.2,645.9 621.2,645.9 623.2,645.9 625.2,645.9 627.2,645.9 629.2,645.9 631.2,645.9 633.2,645.9 635.2,645.9 637.2,645.9 639.2,645.9 641.2,645.9 643.2,645.9 645.2,645.9 647.2,645.9 649.2,645.9 651.2,645.9 653.2,645.9 655.2,645.9 657.2,645.8 659.2,645.8 661.2,645.7 663.2,645.6 665.2,645.6 667.2,645.5 669.1,645.5 671.1,645.4 673.1,645.4 675.1,645.3 677.1,645.2 679.1,645.2 681.1,645.1 683.1,645.1 685.1,645.0 687.1,644.9 689.1,644.9 691.1,644.8 693.1,644.8 695.1,644.7 697.1,644.7 699.1,644.6 701.1,644.5 703.1,644.5 705.1,644.4 707.1,644.4 709.1,644.3 711.1,644.2 713.1,644.2 715.1,644.1 717.1,643.8 719.1,643.5 721.1,643.3 723.1,643.0 725.1,642.7 727.1,642.4 729.1,642.1 731.1,641.8 733.1,641.5 735.1,641.2 737.1,640.9 739.1,640.6 741.0,640.4 743.0,640.1 745.0,639.8 747.0,639.5 749.0,639.2 751.0,638.9 753.0,638.6 755.0,638.3 757.0,638.0 759.0,637.7 761.0,637.4 763.0,637.2 765.0,636.9 767.0,636.6 769.0,636.3 771.0,636.0 773.0,635.7 775.0,635.4 777.0,635.1" fill="none" stroke="#f4f450" stroke-width="1.3"/></g>
<path d="M51 290.5H777M51 250.5H777M51 210.5H777M51 170.5H777M51 130.5H777M51 90.5H777M51 50.5H777M51 555.5H777M51 530.5H777M51 505.5H777M51 480.5H777M51 455.5H777M51 430.5H777M51 405.5H777M51 380.5H777M51 355.5H777M51 655.5H777M51 630.5H777M51 605.5H777" stroke="#383838" stroke-width="1" stroke-dasharray="3 3" stroke-dashoffset="3" fill="none" shape-rendering="crispEdges"/>
<path d="M111.5 31V680M167.5 31V680M229.5 31V680M289.5 31V680M351.5 31V680M411.5 31V680M473.5 31V680M535.5 31V680M595.5 31V680M657.5 31V680M717.5 31V680" stroke="#383838" stroke-width="1" stroke-dasharray="3 3" stroke-dashoffset="2" fill="none" shape-rendering="crispEdges"/>
<path d="M50.5 30.5H777.5V680.5H50.5ZM50 330.5H777M50 580.5H777" stroke="#000" stroke-width="1" fill="none" shape-rendering="crispEdges"/>
<text x="412.3" y="24.4" font-size="18" text-anchor="middle" textLength="264.5" lengthAdjust="spacingAndGlyphs">CHICAGO-OHARE, IL - 2015</text>
<text x="43.5" y="335.8" font-size="11.5" text-anchor="end">-30</text>
<text x="782.3" y="335.8" font-size="11.5">-30</text>
<text x="43.5" y="295.8" font-size="11.5" text-anchor="end">-10</text>
<text x="782.3" y="295.8" font-size="11.5">-10</text>
<text x="43.5" y="255.8" font-size="11.5" text-anchor="end">10</text>
<text x="782.3" y="255.8" font-size="11.5">10</text>
<text x="43.5" y="215.8" font-size="11.5" text-anchor="end">30</text>
<text x="782.3" y="215.8" font-size="11.5">30</text>
<text x="43.5" y="175.8" font-size="11.5" text-anchor="end">50</text>
<text x="782.3" y="175.8" font-size="11.5">50</text>
<text x="43.5" y="135.8" font-size="11.5" text-anchor="end">70</text>
<text x="782.3" y="135.8" font-size="11.5">70</text>
<text x="43.5" y="95.8" font-size="11.5" text-anchor="end">90</text>
<text x="782.3" y="95.8" font-size="11.5">90</text>
<text x="43.5" y="55.8" font-size="11.5" text-anchor="end">110</text>
<text x="782.3" y="55.8" font-size="11.5">110</text>
<text x="43.5" y="560.8" font-size="11.5" text-anchor="end">4</text>
<text x="782.3" y="560.8" font-size="11.5">4</text>
<text x="43.5" y="535.8" font-size="11.5" text-anchor="end">8</text>
<text x="782.3" y="535.8" font-size="11.5">8</text>
<text x="43.5" y="510.8" font-size="11.5" text-anchor="end">12</text>
<text x="782.3" y="510.8" font-size="11.5">12</text>
<text x="43.5" y="485.8" font-size="11.5" text-anchor="end">16</text>
<text x="782.3" y="485.8" font-size="11.5">16</text>
<text x="43.5" y="460.8" font-size="11.5" text-anchor="end">20</text>
<text x="782.3" y="460.8" font-size="11.5">20</text>
<text x="43.5" y="435.8" font-size="11.5" text-anchor="end">24</text>
<text x="782.3" y="435.8" font-size="11.5">24</text>
<text x="43.5" y="410.8" font-size="11.5" text-anchor="end">28</text>
<text x="782.3" y="410.8" font-size="11.5">28</text>
<text x="43.5" y="385.8" font-size="11.5" text-anchor="end">32</text>
<text x="782.3" y="385.8" font-size="11.5">32</text>
<text x="43.5" y="360.8" font-size="11.5" text-anchor="end">36</text>
<text x="782.3" y="360.8" font-size="11.5">36</text>
<text x="43.5" y="660.8" font-size="11.5" text-anchor="end">20</text>
<text x="782.3" y="660.8" font-size="11.5">20</text>
<text x="43.5" y="635.8" font-size="11.5" text-anchor="end">40</text>
<text x="782.3" y="635.8" font-size="11.5">40</text>
<text x="43.5" y="610.8" font-size="11.5" text-anchor="end">60</text>
<text x="782.3" y="610.8" font-size="11.5">60</text>
<text x="50.6" y="692.9" font-size="13" textLength="24.3" lengthAdjust="spacingAndGlyphs">Jan</text>
<text x="111.6" y="692.9" font-size="13">Feb</text>
<text x="167.6" y="692.9" font-size="13">Mar</text>
<text x="229.6" y="692.9" font-size="13">Apr</text>
<text x="289.6" y="692.9" font-size="13">May</text>
<text x="351.6" y="692.9" font-size="13" textLength="25.0" lengthAdjust="spacingAndGlyphs">Jun</text>
<text x="411.6" y="692.9" font-size="13" textLength="20.5" lengthAdjust="spacingAndGlyphs">Jul</text>
<text x="473.6" y="692.9" font-size="13">Aug</text>
<text x="535.6" y="692.9" font-size="13">Sep</text>
<text x="595.6" y="692.9" font-size="13">Oct</text>
<text x="657.6" y="692.9" font-size="13">Nov</text>
<text x="717.6" y="692.9" font-size="13">Dec</text>
<text transform="translate(26.1,180.6) rotate(-90)" font-size="16.8" text-anchor="middle" textLength="171.5" lengthAdjust="spacingAndGlyphs">Temperature (Deg F)</text>
<text transform="translate(26.1,455) rotate(-90)" font-size="16.8" text-anchor="middle" textLength="172" lengthAdjust="spacingAndGlyphs">Precipitation (Inches)</text>
<text transform="translate(26.1,631.4) rotate(-90)" font-size="16.8" text-anchor="middle" textLength="114.5" lengthAdjust="spacingAndGlyphs">Snow (inches)</text>
<text x="715.5" y="345" font-size="16">39.85</text>
<text x="719.7" y="597.8" font-size="16">63.5</text>
<rect x="50" y="705" width="41" height="5.6" fill="#ccccff"/>
<text x="93.5" y="709.5" font-size="13">Record Min</text>
<rect x="200" y="705" width="41" height="5.6" fill="#ffcccc"/>
<text x="243.5" y="709.5" font-size="13">Record Max</text>
<rect x="350" y="705" width="41" height="5.6" fill="#ccffcc"/>
<text x="393.5" y="709.5" font-size="13">Normal</text>
<rect x="500" y="705" width="41" height="5.6" fill="#b0b050"/>
<text x="543.5" y="709.5" font-size="13">Below Normal</text>
<rect x="650" y="705" width="41" height="5.6" fill="#006400"/>
<text x="693.5" y="709.5" font-size="13">Above Normal</text>
<g id="logo">
<rect x="51" y="31" width="45" height="45" fill="#fff"/>
<g transform="translate(74 53.9)">
<defs><clipPath id="lc"><circle r="16.3"/></clipPath>
<path id="ringp" d="M-17.3 0A17.3 17.3 0 1 1 17.3 0A17.3 17.3 0 1 1 -17.3 0"/></defs>
<circle r="18.7" fill="#fff"/>
<text font-size="2.8" font-weight="bold" style="fill:#8478d4" fill-opacity="0.8" textLength="107" lengthAdjust="spacingAndGlyphs"><textPath href="#ringp">NATIONAL OCEANIC AND ATMOSPHERIC ADMINISTRATION · U.S. DEPARTMENT OF COMMERCE ·</textPath></text>
<circle r="18.2" fill="none" stroke="#8a7fd6" stroke-opacity="0.22" stroke-width="2"/>
<circle r="16.3" fill="#6852b8"/>
<g clip-path="url(#lc)">
<path d="M-17 -4.8C-13 -2.4 -9.5 0.4 -6.8 3.2C-5.4 4.8 -4.8 6 -3.8 6.5C-1.2 6 0.6 4.6 2.2 3.4C4.6 1.6 8.4 -2.4 11.4 -5.2L17 -10.6L17 -18L-17 -18Z" fill="#fff"/>
<path d="M-4.9 6.9C-1 6.5 3.5 4.5 7.6 3.3C4.5 3.4 0 4.9 -3.6 5.5Z" fill="#fff"/>
<path d="M-13.8 -9.9C-11 -7 -8 -4 -5.3 -1.3C-3.5 0.6 -1.5 2.3 0.7 2.4C2.4 2.4 4.2 0.6 6 -2C7.5 -4.2 10 -7.8 13 -11.2L13 -18L-14 -18Z" fill="#2000a0"/>
</g>
<text x="0" y="-5.4" font-size="5.8" font-weight="bold" text-anchor="middle" textLength="14" lengthAdjust="spacingAndGlyphs" style="fill:#fff">NOAA</text>
</g>
</g>

</svg></body></html>
